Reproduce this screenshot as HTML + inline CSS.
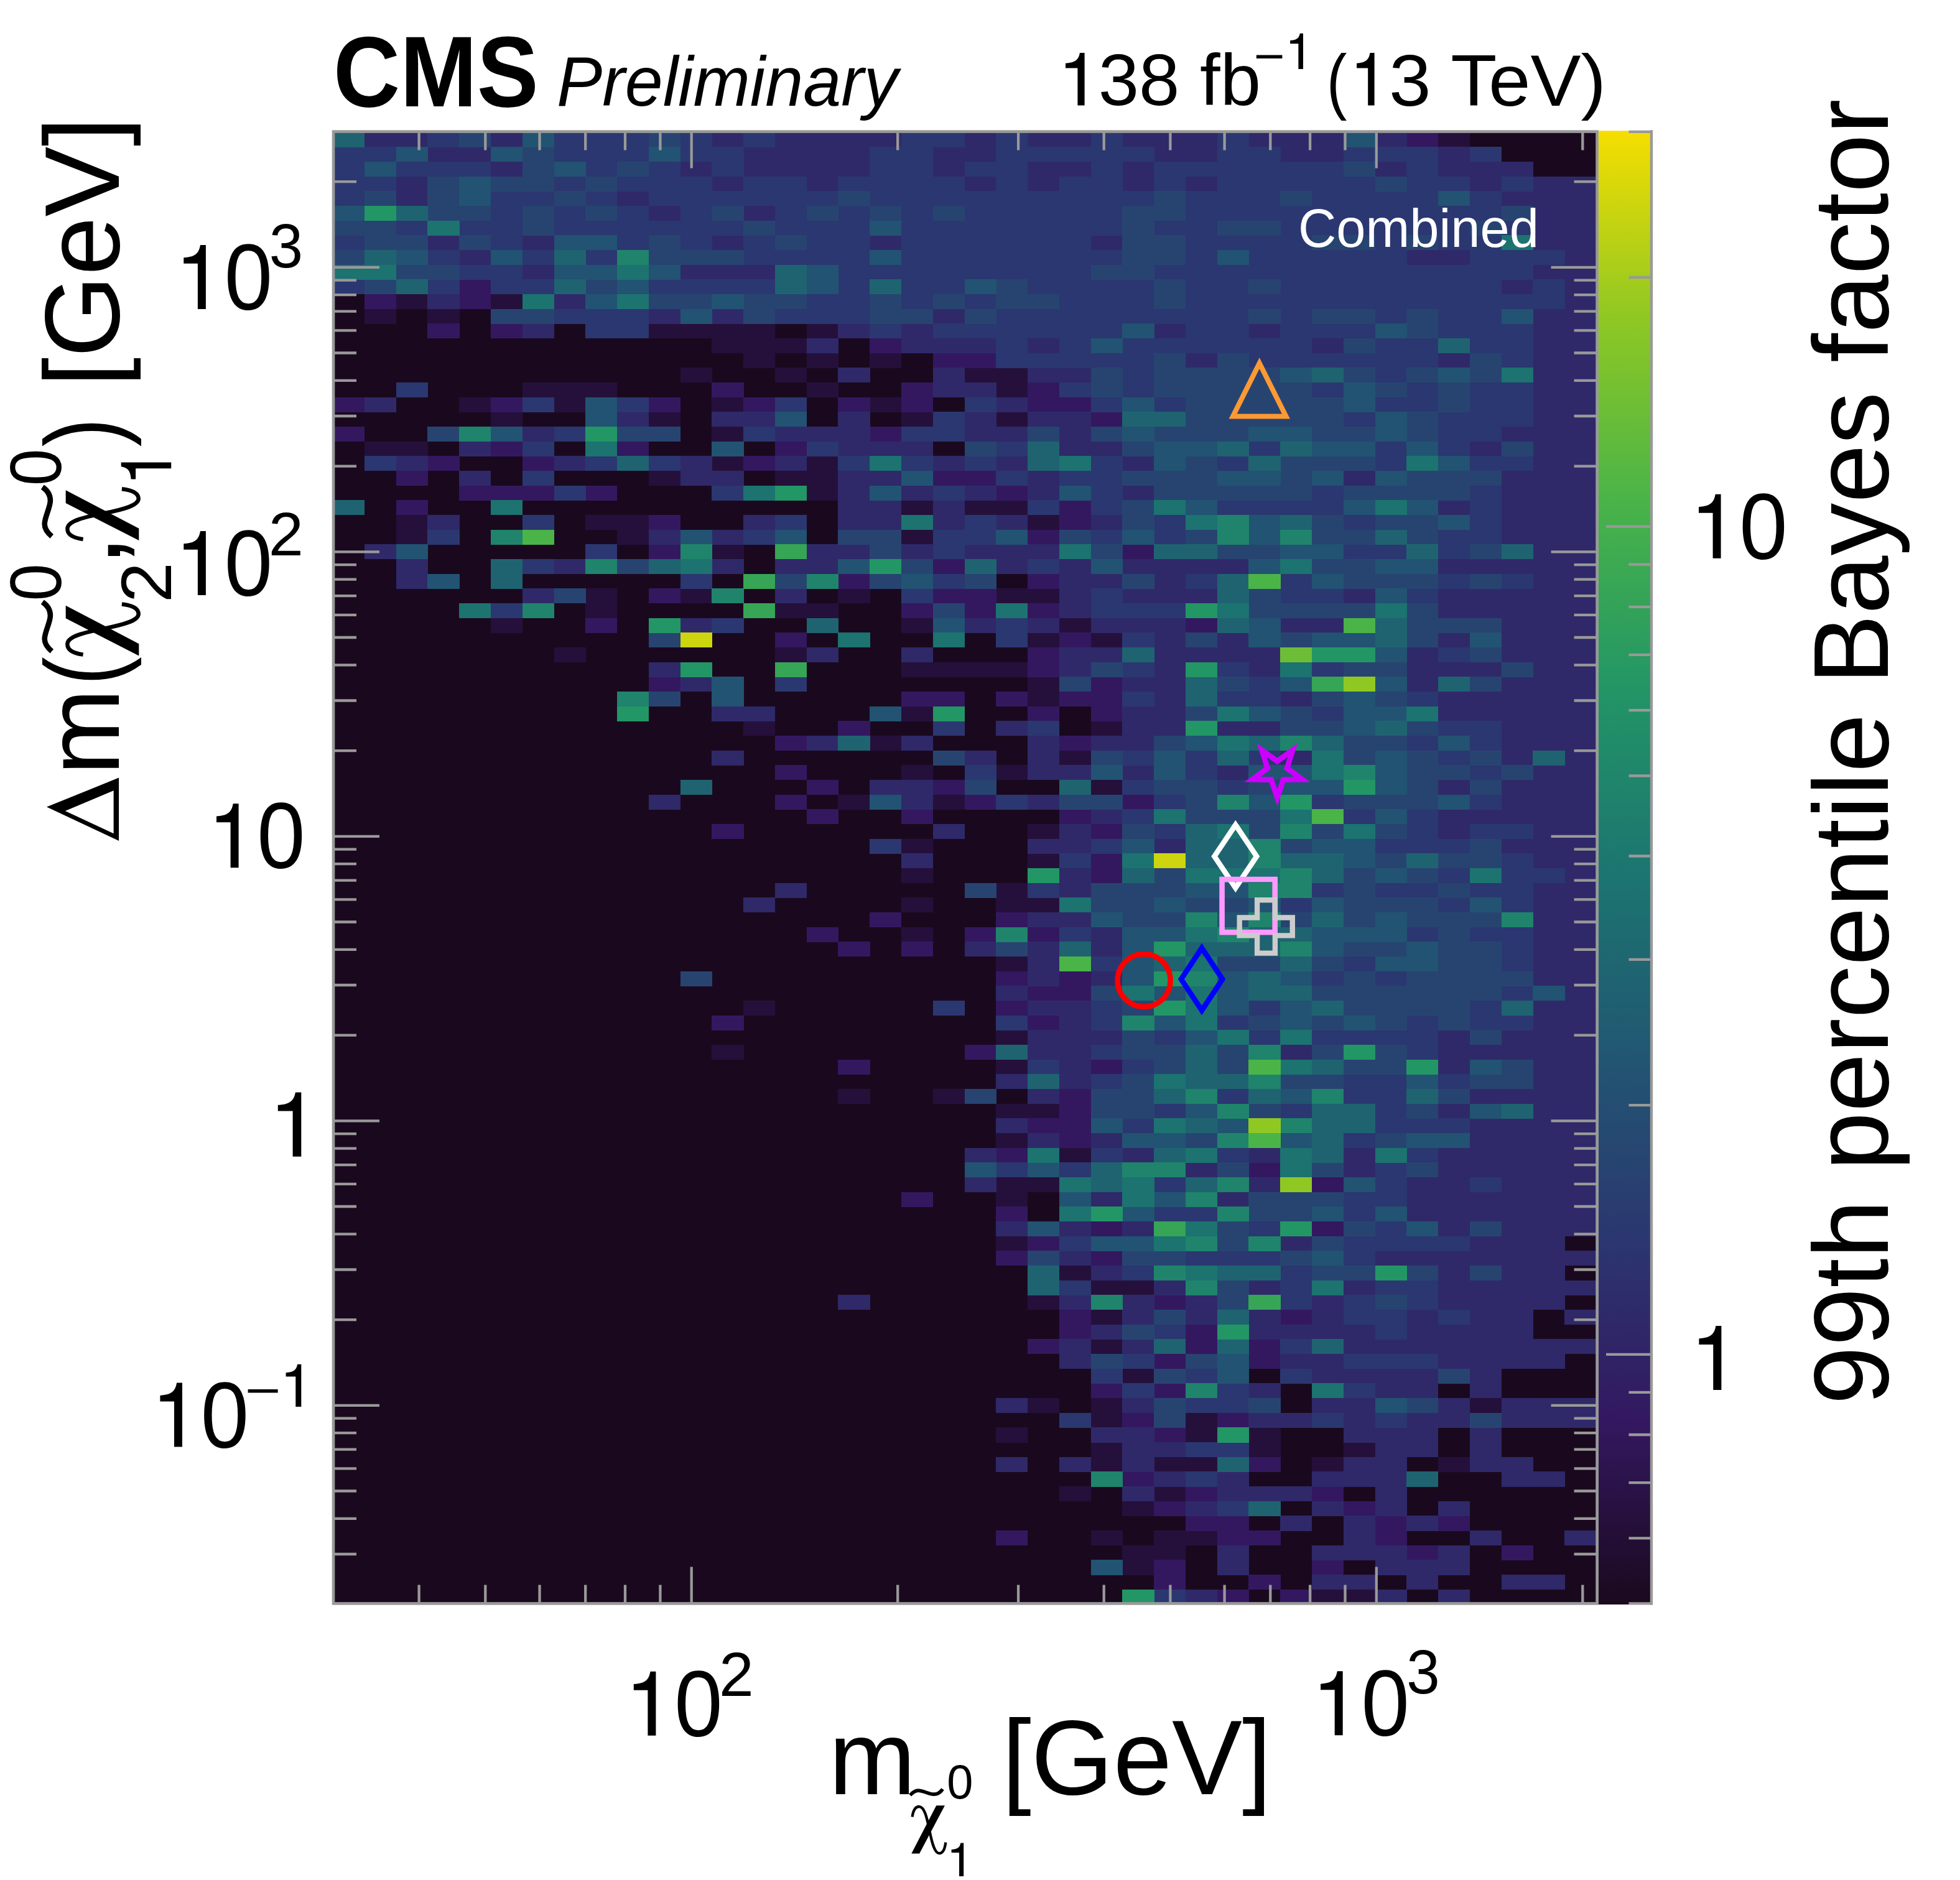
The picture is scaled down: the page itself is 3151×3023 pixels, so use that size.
<!DOCTYPE html><html><head><meta charset="utf-8"><title>plot</title><style>html,body{margin:0;padding:0;background:#fff}svg{display:block}text{font-family:"Liberation Sans",sans-serif}</style></head><body>
<svg width="3151" height="3023" viewBox="0 0 3151 3023">
<rect width="3151" height="3023" fill="#fff"/>
<rect x="536.0" y="211.6" width="2031.6" height="2366.8" fill="#1a091e"/>
<g shape-rendering="crispEdges">
<path fill="#25103c" d="M2312.1 212.6H2363.2V236.7H2312.1zM636.6 472.9H687.8V497H636.6zM788.9 472.9H840.1V497H788.9zM585.9 496.6H637V520.7H585.9zM687.4 496.6H738.6V520.7H687.4zM1042.8 520.3H1246.3V544.4H1042.8zM1296.6 520.3H1347.8V544.4H1296.6zM1144.3 544H1297V568H1144.3zM1195.1 567.6H1246.3V591.7H1195.1zM1296.6 567.6H1347.8V591.7H1296.6zM1398.2 567.6H1449.4V591.7H1398.2zM1093.6 591.3H1144.7V615.4H1093.6zM1245.9 591.3H1297V615.4H1245.9zM1550.5 591.3H1652.4V615.4H1550.5zM839.7 615H992.4V639H839.7zM1296.6 615H1347.8V639H1296.6zM1601.3 615H1652.4V639H1601.3zM738.2 638.6H789.4V662.7H738.2zM890.5 638.6H941.7V662.7H890.5zM1144.3 638.6H1195.5V662.7H1144.3zM1398.2 638.6H1449.4V662.7H1398.2zM788.9 662.3H840.1V686.4H788.9zM1042.8 662.3H1094V686.4H1042.8zM1449 662.3H1500.1V686.4H1449zM1601.3 662.3H1652.4V686.4H1601.3zM1144.3 686H1195.5V710H1144.3zM585.9 709.6H687.8V733.7H585.9zM1144.3 733.3H1195.5V757.4H1144.3zM1296.6 733.3H1347.8V757.4H1296.6zM1042.8 757H1094V781H1042.8zM1245.9 757H1347.8V781H1245.9zM1296.6 780.6H1347.8V804.7H1296.6zM1449 804.3H1500.1V828.4H1449zM1550.5 804.3H1652.4V828.4H1550.5zM636.6 828H687.8V852H636.6zM941.3 828H1043.2V852H941.3zM1652 828H1703.2V852H1652zM636.6 851.6H687.8V875.7H636.6zM992 851.6H1043.2V875.7H992zM1449 851.6H1500.1V875.7H1449zM1144.3 875.3H1195.5V899.4H1144.3zM941.3 946.3H992.4V970.4H941.3zM1093.6 946.3H1144.7V970.4H1093.6zM1347.4 946.3H1398.6V970.4H1347.4zM1601.3 946.3H1703.2V970.4H1601.3zM941.3 970H992.4V994H941.3zM1245.9 970H1347.8V994H1245.9zM788.9 993.6H840.1V1017.7H788.9zM1449 993.6H1500.1V1017.7H1449zM1702.8 993.6H1754V1017.7H1702.8zM1652 1017.3H1703.2V1041.4H1652zM1753.6 1017.3H1804.8V1041.4H1753.6zM890.5 1041H941.7V1065H890.5zM1245.9 1041H1297V1065H1245.9zM1449 1064.6H1652.4V1088.7H1449zM1652 1088.3H1703.2V1112.4H1652zM1652 1112H1703.2V1136.1H1652zM1449 1135.7H1500.1V1159.7H1449zM1195.1 1159.3H1246.3V1183.4H1195.1zM1753.6 1159.3H1804.8V1183.4H1753.6zM1398.2 1183H1449.4V1207.1H1398.2zM1702.8 1206.7H1754V1230.7H1702.8zM1449 1230.3H1500.1V1254.4H1449zM1601.3 1230.3H1652.4V1254.4H1601.3zM1753.6 1254H1804.8V1278.1H1753.6zM1347.4 1277.7H1398.6V1301.7H1347.4zM1499.7 1277.7H1550.9V1301.7H1499.7zM1652 1325H1703.2V1349.1H1652zM1449 1348.7H1500.1V1372.7H1449zM1652 1372.3H1703.2V1396.4H1652zM1449 1396H1500.1V1420.1H1449zM1601.3 1419.7H1652.4V1443.7H1601.3zM1449 1443.3H1500.1V1467.4H1449zM1601.3 1443.3H1703.2V1467.4H1601.3zM1449 1490.7H1500.1V1514.7H1449zM1601.3 1538H1652.4V1562.1H1601.3zM1195.1 1609H1246.3V1633.1H1195.1zM1601.3 1656.3H1652.4V1680.4H1601.3zM1144.3 1680H1195.5V1704.1H1144.3zM1601.3 1703.7H1652.4V1727.8H1601.3zM1347.4 1751H1398.6V1775.1H1347.4zM1499.7 1751H1550.9V1775.1H1499.7zM1601.3 1774.7H1703.2V1798.8H1601.3zM1601.3 1822H1652.4V1846.1H1601.3zM1702.8 1845.7H1754V1869.8H1702.8zM1601.3 1893H1703.2V1917.1H1601.3zM1601.3 1916.7H1652.4V1940.8H1601.3zM1601.3 1987.7H1652.4V2011.8H1601.3zM1702.8 2035H1754V2059.1H1702.8zM1753.6 2058.7H1855.5V2082.8H1753.6zM1652 2082.4H1703.2V2106.4H1652zM1753.6 2106H1804.8V2130.1H1753.6zM1753.6 2153.4H1804.8V2177.4H1753.6zM1804.3 2200.7H1855.5V2224.8H1804.3zM1652 2248H1703.2V2272.1H1652zM1753.6 2248H1804.8V2272.1H1753.6zM2362.8 2248H2414V2272.1H2362.8zM1753.6 2271.7H1804.8V2295.8H1753.6zM1905.9 2271.7H1957.1V2295.8H1905.9zM1601.3 2295.4H1652.4V2319.5H1601.3zM1905.9 2295.4H1957.1V2319.5H1905.9zM2007.4 2295.4H2058.6V2319.5H2007.4zM1753.6 2319.1H1804.8V2343.1H1753.6zM2007.4 2319.1H2058.6V2343.1H2007.4zM2159.7 2319.1H2210.9V2343.1H2159.7zM1753.6 2342.7H1804.8V2366.8H1753.6zM1855.1 2342.7H1957.1V2366.8H1855.1zM2109 2342.7H2160.1V2366.8H2109zM2312.1 2342.7H2363.2V2366.8H2312.1zM1702.8 2390.1H1754V2414.1H1702.8zM1855.1 2390.1H1906.3V2414.1H1855.1zM1804.3 2413.7H1855.5V2437.8H1804.3zM1753.6 2461.1H1804.8V2485.1H1753.6zM1855.1 2461.1H1957.1V2485.1H1855.1zM1804.3 2484.7H1906.3V2508.8H1804.3zM1804.3 2508.4H1855.5V2532.5H1804.3zM2109 2555.7H2210.9V2579.8H2109z"/>
<path fill="#331860" d="M2261.3 212.6H2312.4V236.7H2261.3zM738.2 449.3H789.4V473.3H738.2zM585.9 472.9H637V497H585.9zM738.2 472.9H789.4V497H738.2zM687.4 520.3H738.6V544.4H687.4zM788.9 520.3H840.1V544.4H788.9zM1398.2 544H1449.4V568H1398.2zM1499.7 567.6H1601.7V591.7H1499.7zM1144.3 615H1195.5V639H1144.3zM1449 615H1500.1V639H1449zM1652 615H1703.2V639H1652zM535.1 638.6H586.3V662.7H535.1zM788.9 638.6H840.1V662.7H788.9zM1042.8 638.6H1094V662.7H1042.8zM1195.1 638.6H1246.3V662.7H1195.1zM1347.4 638.6H1398.6V662.7H1347.4zM1449 638.6H1500.1V662.7H1449zM1652 638.6H1754V662.7H1652zM1753.6 662.3H1804.8V686.4H1753.6zM535.1 686H586.3V710H535.1zM1398.2 686H1449.4V710H1398.2zM788.9 709.6H840.1V733.7H788.9zM992 709.6H1043.2V733.7H992zM1245.9 709.6H1297V733.7H1245.9zM687.4 733.3H738.6V757.4H687.4zM839.7 733.3H890.9V757.4H839.7zM1195.1 733.3H1246.3V757.4H1195.1zM636.6 757H687.8V781H636.6zM1499.7 757H1601.7V781H1499.7zM738.2 780.6H890.9V804.7H738.2zM941.3 780.6H992.4V804.7H941.3zM1601.3 780.6H1652.4V804.7H1601.3zM636.6 804.3H687.8V828.4H636.6zM1702.8 804.3H1754V828.4H1702.8zM1042.8 828H1094V852H1042.8zM1702.8 828H1754V852H1702.8zM1652 851.6H1703.2V875.7H1652zM1042.8 875.3H1094V899.4H1042.8zM1804.3 875.3H1855.5V899.4H1804.3zM1499.7 899H1550.9V923H1499.7zM1347.4 922.6H1398.6V946.7H1347.4zM1652 922.6H1703.2V946.7H1652zM1042.8 946.3H1094V970.4H1042.8zM1499.7 946.3H1601.7V970.4H1499.7zM1449 970H1500.1V994H1449zM1550.5 970H1601.7V994H1550.5zM1652 970H1703.2V994H1652zM941.3 993.6H992.4V1017.7H941.3zM1905.9 993.6H1957.1V1017.7H1905.9zM1245.9 1017.3H1297V1041.4H1245.9zM1702.8 1017.3H1754V1041.4H1702.8zM1652 1041H1703.2V1065H1652zM1652 1064.6H1703.2V1088.7H1652zM1042.8 1088.3H1094V1112.4H1042.8zM1753.6 1088.3H1804.8V1112.4H1753.6zM1449 1112H1550.9V1136.1H1449zM1601.3 1112H1652.4V1136.1H1601.3zM1702.8 1112H1804.8V1136.1H1702.8zM1652 1135.7H1703.2V1159.7H1652zM1753.6 1135.7H1804.8V1159.7H1753.6zM1347.4 1159.3H1398.6V1183.4H1347.4zM1245.9 1183H1297V1207.1H1245.9zM1702.8 1183H1754V1207.1H1702.8zM1245.9 1230.3H1297V1254.4H1245.9zM1296.6 1254H1347.8V1278.1H1296.6zM1499.7 1254H1550.9V1278.1H1499.7zM1245.9 1277.7H1297V1301.7H1245.9zM1550.5 1277.7H1601.7V1301.7H1550.5zM1804.3 1277.7H1855.5V1301.7H1804.3zM1296.6 1301.3H1347.8V1325.4H1296.6zM1449 1301.3H1500.1V1325.4H1449zM1702.8 1301.3H1754V1325.4H1702.8zM1144.3 1325H1195.5V1349.1H1144.3zM1753.6 1325H1804.8V1349.1H1753.6zM1753.6 1372.3H1804.8V1396.4H1753.6zM1753.6 1396H1804.8V1420.1H1753.6zM1398.2 1467H1449.4V1491.1H1398.2zM1601.3 1467H1652.4V1491.1H1601.3zM1296.6 1490.7H1347.8V1514.7H1296.6zM1550.5 1490.7H1601.7V1514.7H1550.5zM1652 1490.7H1703.2V1514.7H1652zM1347.4 1514.3H1398.6V1538.4H1347.4zM1449 1514.3H1500.1V1538.4H1449zM1601.3 1561.7H1652.4V1585.7H1601.3zM1702.8 1561.7H1754V1585.7H1702.8zM1652 1585.3H1754V1609.4H1652zM1601.3 1609H1652.4V1633.1H1601.3zM1144.3 1632.7H1195.5V1656.7H1144.3zM1652 1632.7H1703.2V1656.7H1652zM1550.5 1680H1601.7V1704.1H1550.5zM1347.4 1703.7H1398.6V1727.8H1347.4zM1753.6 1703.7H1804.8V1727.8H1753.6zM1702.8 1751H1754V1775.1H1702.8zM1702.8 1774.7H1754V1798.8H1702.8zM1652 1798.4H1754V1822.4H1652zM1702.8 1822H1754V1846.1H1702.8zM1601.3 1845.7H1652.4V1869.8H1601.3zM2007.4 1869.4H2058.6V1893.4H2007.4zM2109 1893H2160.1V1917.1H2109zM1449 1916.7H1500.1V1940.8H1449zM1601.3 1940.4H1652.4V1964.4H1601.3zM1753.6 1964H1804.8V1988.1H1753.6zM2109 1964H2160.1V1988.1H2109zM1652 1987.7H1703.2V2011.8H1652zM1601.3 2011.4H1652.4V2035.4H1601.3zM1753.6 2011.4H1804.8V2035.4H1753.6zM1855.1 2082.4H1906.3V2106.4H1855.1zM1702.8 2106H1754V2130.1H1702.8zM2058.2 2106H2109.4V2130.1H2058.2zM1702.8 2129.7H1754V2153.8H1702.8zM1905.9 2129.7H1957.1V2153.8H1905.9zM1652 2153.4H1703.2V2177.4H1652zM1905.9 2153.4H1957.1V2177.4H1905.9zM2007.4 2153.4H2058.6V2177.4H2007.4zM1855.1 2177H1906.3V2201.1H1855.1zM2007.4 2177H2058.6V2201.1H2007.4zM1753.6 2224.4H1804.8V2248.4H1753.6zM1855.1 2224.4H1906.3V2248.4H1855.1zM1804.3 2271.7H1855.5V2295.8H1804.3zM1956.7 2271.7H2007.8V2295.8H1956.7zM1855.1 2295.4H1906.3V2319.5H1855.1zM2007.4 2342.7H2058.6V2366.8H2007.4zM1804.3 2366.4H1855.5V2390.5H1804.3zM1905.9 2390.1H1957.1V2414.1H1905.9zM2109 2390.1H2160.1V2414.1H2109zM1855.1 2413.7H1906.3V2437.8H1855.1zM2159.7 2413.7H2210.9V2437.8H2159.7zM1905.9 2437.4H2007.8V2461.5H1905.9zM2210.5 2437.4H2261.7V2461.5H2210.5zM2312.1 2437.4H2363.2V2461.5H2312.1zM1601.3 2461.1H1652.4V2485.1H1601.3zM1956.7 2461.1H2058.6V2485.1H1956.7zM2210.5 2461.1H2261.7V2485.1H2210.5zM2261.3 2484.7H2312.4V2508.8H2261.3zM2413.6 2484.7H2464.8V2508.8H2413.6zM1855.1 2508.4H1906.3V2532.5H1855.1zM2109 2508.4H2160.1V2532.5H2109zM1855.1 2532.1H1906.3V2556.1H1855.1zM2007.4 2532.1H2058.6V2556.1H2007.4zM1956.7 2555.7H2007.8V2579.8H1956.7zM2058.2 2555.7H2109.4V2579.8H2058.2z"/>
<path fill="#2f2969" d="M585.9 212.6H687.8V236.7H585.9zM788.9 212.6H840.1V236.7H788.9zM1144.3 212.6H1195.5V236.7H1144.3zM1245.9 212.6H1449.4V236.7H1245.9zM1550.5 212.6H1601.7V236.7H1550.5zM1652 212.6H1754V236.7H1652zM1804.3 212.6H1957.1V236.7H1804.3zM2007.4 212.6H2160.1V236.7H2007.4zM2210.5 212.6H2261.7V236.7H2210.5zM687.4 236.3H789.4V260.3H687.4zM1195.1 236.3H1398.6V260.3H1195.1zM1499.7 236.3H1601.7V260.3H1499.7zM1855.1 236.3H1957.1V260.3H1855.1zM2058.2 236.3H2160.1V260.3H2058.2zM2312.1 236.3H2363.2V260.3H2312.1zM788.9 259.9H840.1V284H788.9zM1093.6 259.9H1144.7V284H1093.6zM1195.1 259.9H1398.6V284H1195.1zM1499.7 259.9H1550.9V284H1499.7zM1652 259.9H1754V284H1652zM1804.3 259.9H1855.5V284H1804.3zM2210.5 259.9H2261.7V284H2210.5zM2312.1 259.9H2464.8V284H2312.1zM636.6 283.6H687.8V307.7H636.6zM1144.3 283.6H1195.5V307.7H1144.3zM1296.6 283.6H1347.8V307.7H1296.6zM1550.5 283.6H1601.7V307.7H1550.5zM1652 283.6H1703.2V307.7H1652zM1804.3 283.6H1855.5V307.7H1804.3zM1905.9 283.6H1957.1V307.7H1905.9zM2362.8 283.6H2414V307.7H2362.8zM2464.4 283.6H2566.3V307.7H2464.4zM636.6 307.3H687.8V331.3H636.6zM992 307.3H1043.2V331.3H992zM2413.6 307.3H2566.3V331.3H2413.6zM1042.8 330.9H1094V355H1042.8zM1195.1 330.9H1246.3V355H1195.1zM2464.4 330.9H2566.3V355H2464.4zM2464.4 354.6H2566.3V378.7H2464.4zM687.4 378.3H738.6V402.3H687.4zM839.7 378.3H890.9V402.3H839.7zM1144.3 378.3H1195.5V402.3H1144.3zM1398.2 378.3H1449.4V402.3H1398.2zM1753.6 378.3H1804.8V402.3H1753.6zM2464.4 378.3H2566.3V402.3H2464.4zM738.2 401.9H789.4V426H738.2zM2261.3 401.9H2363.2V426H2261.3zM2515.1 401.9H2566.3V426H2515.1zM839.7 425.6H890.9V449.7H839.7zM1093.6 425.6H1246.3V449.7H1093.6zM2464.4 425.6H2566.3V449.7H2464.4zM2413.6 449.3H2464.8V473.3H2413.6zM2515.1 449.3H2566.3V473.3H2515.1zM687.4 472.9H738.6V497H687.4zM890.5 472.9H941.7V497H890.5zM2515.1 472.9H2566.3V497H2515.1zM1042.8 496.6H1094V520.7H1042.8zM1144.3 496.6H1195.5V520.7H1144.3zM1499.7 496.6H1550.9V520.7H1499.7zM2464.4 496.6H2566.3V520.7H2464.4zM839.7 520.3H890.9V544.4H839.7zM1347.4 520.3H1398.6V544.4H1347.4zM1449 520.3H1500.1V544.4H1449zM1855.1 520.3H1906.3V544.4H1855.1zM2007.4 520.3H2058.6V544.4H2007.4zM2464.4 520.3H2566.3V544.4H2464.4zM1296.6 544H1347.8V568H1296.6zM1449 544H1601.7V568H1449zM1652 544H1703.2V568H1652zM2109 544H2160.1V568H2109zM2464.4 544H2566.3V568H2464.4zM1905.9 567.6H1957.1V591.7H1905.9zM2312.1 567.6H2363.2V591.7H2312.1zM2464.4 567.6H2566.3V591.7H2464.4zM1347.4 591.3H1398.6V615.4H1347.4zM1499.7 591.3H1550.9V615.4H1499.7zM1652 591.3H1754V615.4H1652zM2464.4 591.3H2566.3V615.4H2464.4zM1499.7 615H1601.7V639H1499.7zM2464.4 615H2566.3V639H2464.4zM585.9 638.6H637V662.7H585.9zM1601.3 638.6H1652.4V662.7H1601.3zM2464.4 638.6H2566.3V662.7H2464.4zM992 662.3H1043.2V686.4H992zM1144.3 662.3H1246.3V686.4H1144.3zM1347.4 662.3H1398.6V686.4H1347.4zM1550.5 662.3H1601.7V686.4H1550.5zM1652 662.3H1754V686.4H1652zM2464.4 662.3H2566.3V686.4H2464.4zM839.7 686H890.9V710H839.7zM1245.9 686H1398.6V710H1245.9zM1550.5 686H1652.4V710H1550.5zM1702.8 686H1754V710H1702.8zM2413.6 686H2566.3V710H2413.6zM738.2 709.6H789.4V733.7H738.2zM1347.4 709.6H1500.1V733.7H1347.4zM1702.8 709.6H1804.8V733.7H1702.8zM2362.8 709.6H2414V733.7H2362.8zM2464.4 709.6H2566.3V733.7H2464.4zM636.6 733.3H687.8V757.4H636.6zM890.5 733.3H941.7V757.4H890.5zM1093.6 733.3H1144.7V757.4H1093.6zM1245.9 733.3H1297V757.4H1245.9zM1499.7 733.3H1550.9V757.4H1499.7zM1601.3 733.3H1652.4V757.4H1601.3zM1804.3 733.3H1855.5V757.4H1804.3zM2464.4 733.3H2566.3V757.4H2464.4zM738.2 757H789.4V781H738.2zM1093.6 757H1195.5V781H1093.6zM1347.4 757H1449.4V781H1347.4zM1652 757H1703.2V781H1652zM2159.7 757H2210.9V781H2159.7zM2413.6 757H2566.3V781H2413.6zM1347.4 780.6H1398.6V804.7H1347.4zM1449 780.6H1500.1V804.7H1449zM1550.5 780.6H1601.7V804.7H1550.5zM1652 780.6H1703.2V804.7H1652zM1804.3 780.6H1855.5V804.7H1804.3zM2413.6 780.6H2566.3V804.7H2413.6zM1347.4 804.3H1449.4V828.4H1347.4zM1499.7 804.3H1550.9V828.4H1499.7zM2312.1 804.3H2363.2V828.4H2312.1zM2413.6 804.3H2566.3V828.4H2413.6zM687.4 828H738.6V852H687.4zM1195.1 828H1246.3V852H1195.1zM1347.4 828H1449.4V852H1347.4zM1499.7 828H1550.9V852H1499.7zM1601.3 828H1652.4V852H1601.3zM1753.6 828H1804.8V852H1753.6zM2413.6 828H2566.3V852H2413.6zM1042.8 851.6H1094V875.7H1042.8zM1144.3 851.6H1195.5V875.7H1144.3zM2413.6 851.6H2566.3V875.7H2413.6zM585.9 875.3H637V899.4H585.9zM1296.6 875.3H1398.6V899.4H1296.6zM1449 875.3H1500.1V899.4H1449zM1550.5 875.3H1703.2V899.4H1550.5zM2464.4 875.3H2566.3V899.4H2464.4zM636.6 899H687.8V923H636.6zM890.5 899H941.7V923H890.5zM1144.3 899H1195.5V923H1144.3zM1245.9 899H1347.8V923H1245.9zM1601.3 899H1652.4V923H1601.3zM1702.8 899H1754V923H1702.8zM1804.3 899H2007.8V923H1804.3zM2312.1 899H2566.3V923H2312.1zM636.6 922.6H687.8V946.7H636.6zM1702.8 922.6H1804.8V946.7H1702.8zM1855.1 922.6H1906.3V946.7H1855.1zM2464.4 922.6H2566.3V946.7H2464.4zM839.7 946.3H890.9V970.4H839.7zM1245.9 946.3H1297V970.4H1245.9zM1702.8 946.3H1754V970.4H1702.8zM1804.3 946.3H1957.1V970.4H1804.3zM2159.7 946.3H2210.9V970.4H2159.7zM2312.1 946.3H2566.3V970.4H2312.1zM1702.8 970H1754V994H1702.8zM2312.1 970H2566.3V994H2312.1zM1093.6 993.6H1144.7V1017.7H1093.6zM1550.5 993.6H1601.7V1017.7H1550.5zM1652 993.6H1703.2V1017.7H1652zM1753.6 993.6H1906.3V1017.7H1753.6zM2058.2 993.6H2160.1V1017.7H2058.2zM2413.6 993.6H2566.3V1017.7H2413.6zM1855.1 1017.3H1906.3V1041.4H1855.1zM1956.7 1017.3H2007.8V1041.4H1956.7zM2312.1 1017.3H2363.2V1041.4H2312.1zM2413.6 1017.3H2566.3V1041.4H2413.6zM1296.6 1041H1347.8V1065H1296.6zM1449 1041H1500.1V1065H1449zM1702.8 1041H1804.8V1065H1702.8zM1855.1 1041H2058.6V1065H1855.1zM2261.3 1041H2312.4V1065H2261.3zM2413.6 1041H2566.3V1065H2413.6zM1042.8 1064.6H1094V1088.7H1042.8zM1702.8 1064.6H1754V1088.7H1702.8zM1855.1 1064.6H1906.3V1088.7H1855.1zM2007.4 1064.6H2058.6V1088.7H2007.4zM2261.3 1064.6H2414V1088.7H2261.3zM2464.4 1064.6H2566.3V1088.7H2464.4zM1093.6 1088.3H1144.7V1112.4H1093.6zM1804.3 1088.3H1906.3V1112.4H1804.3zM2261.3 1088.3H2312.4V1112.4H2261.3zM2413.6 1088.3H2566.3V1112.4H2413.6zM1855.1 1112H1906.3V1136.1H1855.1zM2058.2 1112H2109.4V1136.1H2058.2zM2312.1 1112H2566.3V1136.1H2312.1zM1144.3 1135.7H1246.3V1159.7H1144.3zM1804.3 1135.7H1906.3V1159.7H1804.3zM2312.1 1135.7H2566.3V1159.7H2312.1zM1601.3 1159.3H1652.4V1183.4H1601.3zM1804.3 1159.3H1906.3V1183.4H1804.3zM1956.7 1159.3H2058.6V1183.4H1956.7zM2413.6 1159.3H2566.3V1183.4H2413.6zM1296.6 1183H1347.8V1207.1H1296.6zM1449 1183H1500.1V1207.1H1449zM1652 1183H1703.2V1207.1H1652zM1753.6 1183H1855.5V1207.1H1753.6zM2413.6 1183H2566.3V1207.1H2413.6zM1144.3 1206.7H1195.5V1230.7H1144.3zM1550.5 1206.7H1601.7V1230.7H1550.5zM1652 1206.7H1703.2V1230.7H1652zM2058.2 1206.7H2109.4V1230.7H2058.2zM2413.6 1206.7H2464.8V1230.7H2413.6zM2515.1 1206.7H2566.3V1230.7H2515.1zM1652 1230.3H1754V1254.4H1652zM1804.3 1230.3H1855.5V1254.4H1804.3zM1956.7 1230.3H2007.8V1254.4H1956.7zM2464.4 1230.3H2566.3V1254.4H2464.4zM1398.2 1254H1500.1V1278.1H1398.2zM2312.1 1254H2363.2V1278.1H2312.1zM2413.6 1254H2566.3V1278.1H2413.6zM1042.8 1277.7H1094V1301.7H1042.8zM1449 1277.7H1500.1V1301.7H1449zM1652 1277.7H1703.2V1301.7H1652zM2413.6 1277.7H2566.3V1301.7H2413.6zM1753.6 1301.3H1804.8V1325.4H1753.6zM2312.1 1301.3H2566.3V1325.4H2312.1zM1499.7 1325H1550.9V1349.1H1499.7zM1702.8 1325H1754V1349.1H1702.8zM2312.1 1325H2363.2V1349.1H2312.1zM2464.4 1325H2566.3V1349.1H2464.4zM1652 1348.7H1754V1372.7H1652zM1855.1 1348.7H1906.3V1372.7H1855.1zM2413.6 1348.7H2566.3V1372.7H2413.6zM1449 1372.3H1500.1V1396.4H1449zM2464.4 1372.3H2566.3V1396.4H2464.4zM1702.8 1396H1754V1420.1H1702.8zM2515.1 1396H2566.3V1420.1H2515.1zM1245.9 1419.7H1297V1443.7H1245.9zM1702.8 1419.7H1754V1443.7H1702.8zM2464.4 1419.7H2566.3V1443.7H2464.4zM1195.1 1443.3H1246.3V1467.4H1195.1zM2464.4 1443.3H2566.3V1467.4H2464.4zM1652 1467H1754V1491.1H1652zM2464.4 1467H2566.3V1491.1H2464.4zM1753.6 1490.7H1804.8V1514.7H1753.6zM2464.4 1490.7H2566.3V1514.7H2464.4zM1550.5 1514.3H1601.7V1538.4H1550.5zM1652 1514.3H1703.2V1538.4H1652zM1753.6 1514.3H1804.8V1538.4H1753.6zM2464.4 1514.3H2566.3V1538.4H2464.4zM1652 1538H1703.2V1562.1H1652zM2464.4 1538H2566.3V1562.1H2464.4zM1652 1561.7H1703.2V1585.7H1652zM1753.6 1561.7H1804.8V1585.7H1753.6zM2464.4 1561.7H2566.3V1585.7H2464.4zM1601.3 1585.3H1652.4V1609.4H1601.3zM2515.1 1585.3H2566.3V1609.4H2515.1zM1652 1609H1754V1633.1H1652zM2464.4 1609H2566.3V1633.1H2464.4zM1702.8 1632.7H1754V1656.7H1702.8zM2464.4 1632.7H2566.3V1656.7H2464.4zM1652 1656.3H1804.8V1680.4H1652zM2312.1 1656.3H2363.2V1680.4H2312.1zM2413.6 1656.3H2566.3V1680.4H2413.6zM1652 1680H1754V1704.1H1652zM2058.2 1680H2109.4V1704.1H2058.2zM2312.1 1680H2566.3V1704.1H2312.1zM1702.8 1703.7H1754V1727.8H1702.8zM2312.1 1703.7H2363.2V1727.8H2312.1zM2464.4 1703.7H2566.3V1727.8H2464.4zM1601.3 1727.4H1652.4V1751.4H1601.3zM1702.8 1727.4H1754V1751.4H1702.8zM2464.4 1727.4H2566.3V1751.4H2464.4zM1652 1751H1703.2V1775.1H1652zM2362.8 1751H2566.3V1775.1H2362.8zM2312.1 1774.7H2363.2V1798.8H2312.1zM2464.4 1774.7H2566.3V1798.8H2464.4zM1601.3 1798.4H1652.4V1822.4H1601.3zM2362.8 1798.4H2566.3V1822.4H2362.8zM1652 1822H1703.2V1846.1H1652zM1753.6 1822H1804.8V1846.1H1753.6zM2362.8 1822H2566.3V1846.1H2362.8zM1550.5 1845.7H1601.7V1869.8H1550.5zM1804.3 1845.7H1855.5V1869.8H1804.3zM2007.4 1845.7H2058.6V1869.8H2007.4zM2159.7 1845.7H2210.9V1869.8H2159.7zM2312.1 1845.7H2566.3V1869.8H2312.1zM1905.9 1869.4H1957.1V1893.4H1905.9zM2159.7 1869.4H2210.9V1893.4H2159.7zM2312.1 1869.4H2566.3V1893.4H2312.1zM1550.5 1893H1601.7V1917.1H1550.5zM2007.4 1893H2058.6V1917.1H2007.4zM2261.3 1893H2363.2V1917.1H2261.3zM2413.6 1893H2566.3V1917.1H2413.6zM1753.6 1916.7H1804.8V1940.8H1753.6zM1956.7 1916.7H2007.8V1940.8H1956.7zM2261.3 1916.7H2566.3V1940.8H2261.3zM2261.3 1940.4H2566.3V1964.4H2261.3zM1601.3 1964H1652.4V1988.1H1601.3zM1702.8 1964H1754V1988.1H1702.8zM1804.3 1964H1855.5V1988.1H1804.3zM2312.1 1964H2363.2V1988.1H2312.1zM2413.6 1964H2566.3V1988.1H2413.6zM2058.2 1987.7H2109.4V2011.8H2058.2zM2362.8 1987.7H2515.5V2011.8H2362.8zM1702.8 2011.4H1754V2035.4H1702.8zM2210.5 2011.4H2566.3V2035.4H2210.5zM1753.6 2035H1804.8V2059.1H1753.6zM2312.1 2035H2363.2V2059.1H2312.1zM2413.6 2035H2515.5V2059.1H2413.6zM1855.1 2058.7H1906.3V2082.8H1855.1zM2007.4 2058.7H2058.6V2082.8H2007.4zM2159.7 2058.7H2210.9V2082.8H2159.7zM2312.1 2058.7H2566.3V2082.8H2312.1zM1347.4 2082.4H1398.6V2106.4H1347.4zM1702.8 2082.4H1754V2106.4H1702.8zM1804.3 2082.4H1855.5V2106.4H1804.3zM1905.9 2082.4H1957.1V2106.4H1905.9zM2109 2082.4H2160.1V2106.4H2109zM2312.1 2082.4H2515.5V2106.4H2312.1zM1804.3 2106H1855.5V2130.1H1804.3zM1905.9 2106H1957.1V2130.1H1905.9zM2007.4 2106H2058.6V2130.1H2007.4zM2109 2106H2160.1V2130.1H2109zM2261.3 2106H2312.4V2130.1H2261.3zM2362.8 2106H2464.8V2130.1H2362.8zM2515.1 2106H2566.3V2130.1H2515.1zM1753.6 2129.7H1804.8V2153.8H1753.6zM2007.4 2129.7H2210.9V2153.8H2007.4zM2261.3 2129.7H2464.8V2153.8H2261.3zM1702.8 2153.4H1754V2177.4H1702.8zM1804.3 2153.4H1855.5V2177.4H1804.3zM2159.7 2153.4H2566.3V2177.4H2159.7zM1702.8 2177H1754V2201.1H1702.8zM2058.2 2177H2160.1V2201.1H2058.2zM2312.1 2177H2515.5V2201.1H2312.1zM2109 2200.7H2312.4V2224.8H2109zM2362.8 2200.7H2414V2224.8H2362.8zM2007.4 2224.4H2058.6V2248.4H2007.4zM2210.5 2224.4H2312.4V2248.4H2210.5zM2362.8 2224.4H2414V2248.4H2362.8zM1601.3 2248H1652.4V2272.1H1601.3zM1804.3 2248H1855.5V2272.1H1804.3zM2109 2248H2210.9V2272.1H2109zM2312.1 2248H2363.2V2272.1H2312.1zM2413.6 2248H2566.3V2272.1H2413.6zM2007.4 2271.7H2109.4V2295.8H2007.4zM2159.7 2271.7H2210.9V2295.8H2159.7zM2261.3 2271.7H2363.2V2295.8H2261.3zM2413.6 2271.7H2566.3V2295.8H2413.6zM1753.6 2295.4H1855.5V2319.5H1753.6zM2159.7 2295.4H2312.4V2319.5H2159.7zM2362.8 2295.4H2414V2319.5H2362.8zM1804.3 2319.1H1906.3V2343.1H1804.3zM2210.5 2319.1H2312.4V2343.1H2210.5zM2362.8 2319.1H2414V2343.1H2362.8zM1601.3 2342.7H1652.4V2366.8H1601.3zM1702.8 2342.7H1754V2366.8H1702.8zM1804.3 2342.7H1855.5V2366.8H1804.3zM2159.7 2342.7H2261.7V2366.8H2159.7zM2362.8 2342.7H2464.8V2366.8H2362.8zM1855.1 2366.4H1906.3V2390.5H1855.1zM1956.7 2366.4H2007.8V2390.5H1956.7zM2109 2366.4H2261.7V2390.5H2109zM2413.6 2366.4H2515.5V2390.5H2413.6zM1804.3 2390.1H1855.5V2414.1H1804.3zM1956.7 2390.1H2109.4V2414.1H1956.7zM2210.5 2390.1H2261.7V2414.1H2210.5zM1905.9 2413.7H1957.1V2437.8H1905.9zM2109 2413.7H2160.1V2437.8H2109zM2210.5 2413.7H2261.7V2437.8H2210.5zM2312.1 2413.7H2363.2V2437.8H2312.1zM2058.2 2437.4H2109.4V2461.5H2058.2zM2159.7 2437.4H2210.9V2461.5H2159.7zM2261.3 2437.4H2312.4V2461.5H2261.3zM2159.7 2461.1H2210.9V2485.1H2159.7zM2362.8 2461.1H2414V2485.1H2362.8zM2515.1 2461.1H2566.3V2485.1H2515.1zM1956.7 2484.7H2007.8V2508.8H1956.7zM2109 2484.7H2261.7V2508.8H2109zM2312.1 2484.7H2363.2V2508.8H2312.1zM1956.7 2508.4H2007.8V2532.5H1956.7zM2210.5 2508.4H2363.2V2532.5H2210.5zM2109 2532.1H2210.9V2556.1H2109zM2261.3 2532.1H2312.4V2556.1H2261.3zM2413.6 2532.1H2515.5V2556.1H2413.6zM1905.9 2555.7H1957.1V2579.8H1905.9zM2210.5 2555.7H2261.7V2579.8H2210.5zM2312.1 2555.7H2363.2V2579.8H2312.1z"/>
<path fill="#2b3770" d="M687.4 212.6H738.6V236.7H687.4zM890.5 212.6H1043.2V236.7H890.5zM1093.6 212.6H1144.7V236.7H1093.6zM1195.1 212.6H1246.3V236.7H1195.1zM1449 212.6H1550.9V236.7H1449zM1601.3 212.6H1652.4V236.7H1601.3zM1753.6 212.6H1804.8V236.7H1753.6zM1956.7 212.6H2007.8V236.7H1956.7zM535.1 236.3H637V260.3H535.1zM890.5 236.3H1043.2V260.3H890.5zM1093.6 236.3H1195.5V260.3H1093.6zM1398.2 236.3H1500.1V260.3H1398.2zM1601.3 236.3H1855.5V260.3H1601.3zM1956.7 236.3H2058.6V260.3H1956.7zM2159.7 236.3H2312.4V260.3H2159.7zM2362.8 236.3H2414V260.3H2362.8zM535.1 259.9H586.3V284H535.1zM636.6 259.9H789.4V284H636.6zM941.3 259.9H992.4V284H941.3zM1042.8 259.9H1094V284H1042.8zM1144.3 259.9H1195.5V284H1144.3zM1398.2 259.9H1500.1V284H1398.2zM1550.5 259.9H1652.4V284H1550.5zM1753.6 259.9H1804.8V284H1753.6zM1855.1 259.9H2160.1V284H1855.1zM2261.3 259.9H2312.4V284H2261.3zM535.1 283.6H637V307.7H535.1zM890.5 283.6H941.7V307.7H890.5zM992 283.6H1144.7V307.7H992zM1195.1 283.6H1297V307.7H1195.1zM1347.4 283.6H1550.9V307.7H1347.4zM1601.3 283.6H1652.4V307.7H1601.3zM1702.8 283.6H1804.8V307.7H1702.8zM1855.1 283.6H1906.3V307.7H1855.1zM1956.7 283.6H2210.9V307.7H1956.7zM2261.3 283.6H2363.2V307.7H2261.3zM2413.6 283.6H2464.8V307.7H2413.6zM535.1 307.3H586.3V331.3H535.1zM788.9 307.3H890.9V331.3H788.9zM941.3 307.3H992.4V331.3H941.3zM1042.8 307.3H1347.8V331.3H1042.8zM1398.2 307.3H1855.5V331.3H1398.2zM1905.9 307.3H2058.6V331.3H1905.9zM2109 307.3H2312.4V331.3H2109zM2362.8 307.3H2414V331.3H2362.8zM788.9 330.9H840.1V355H788.9zM890.5 330.9H941.7V355H890.5zM992 330.9H1043.2V355H992zM1093.6 330.9H1144.7V355H1093.6zM1245.9 330.9H1297V355H1245.9zM1347.4 330.9H1398.6V355H1347.4zM1449 330.9H1500.1V355H1449zM1550.5 330.9H1804.8V355H1550.5zM1905.9 330.9H2414V355H1905.9zM636.6 354.6H687.8V378.7H636.6zM738.2 354.6H840.1V378.7H738.2zM890.5 354.6H1195.5V378.7H890.5zM1245.9 354.6H1398.6V378.7H1245.9zM1449 354.6H1804.8V378.7H1449zM1855.1 354.6H1957.1V378.7H1855.1zM2058.2 354.6H2363.2V378.7H2058.2zM2413.6 354.6H2464.8V378.7H2413.6zM535.1 378.3H586.3V402.3H535.1zM788.9 378.3H840.1V402.3H788.9zM992 378.3H1043.2V402.3H992zM1093.6 378.3H1144.7V402.3H1093.6zM1195.1 378.3H1246.3V402.3H1195.1zM1296.6 378.3H1398.6V402.3H1296.6zM1449 378.3H1754V402.3H1449zM1905.9 378.3H2109.4V402.3H1905.9zM2210.5 378.3H2261.7V402.3H2210.5zM2312.1 378.3H2414V402.3H2312.1zM687.4 401.9H738.6V426H687.4zM839.7 401.9H890.9V426H839.7zM941.3 401.9H992.4V426H941.3zM1195.1 401.9H1398.6V426H1195.1zM1449 401.9H1804.8V426H1449zM1905.9 401.9H1957.1V426H1905.9zM2007.4 401.9H2261.7V426H2007.4zM2362.8 401.9H2515.5V426H2362.8zM738.2 425.6H840.1V449.7H738.2zM1347.4 425.6H1754V449.7H1347.4zM1855.1 425.6H2464.8V449.7H1855.1zM535.1 449.3H586.3V473.3H535.1zM687.4 449.3H738.6V473.3H687.4zM788.9 449.3H890.9V473.3H788.9zM1042.8 449.3H1246.3V473.3H1042.8zM1347.4 449.3H1398.6V473.3H1347.4zM1449 449.3H1550.9V473.3H1449zM1652 449.3H1855.5V473.3H1652zM1905.9 449.3H2007.8V473.3H1905.9zM2058.2 449.3H2414V473.3H2058.2zM2464.4 449.3H2515.5V473.3H2464.4zM1296.6 472.9H1398.6V497H1296.6zM1449 472.9H1500.1V497H1449zM1550.5 472.9H1601.7V497H1550.5zM1702.8 472.9H1855.5V497H1702.8zM1905.9 472.9H2515.5V497H1905.9zM890.5 496.6H1043.2V520.7H890.5zM1245.9 496.6H1398.6V520.7H1245.9zM1601.3 496.6H2007.8V520.7H1601.3zM2058.2 496.6H2109.4V520.7H2058.2zM2210.5 496.6H2261.7V520.7H2210.5zM2312.1 496.6H2414V520.7H2312.1zM941.3 520.3H1043.2V544.4H941.3zM1398.2 520.3H1449.4V544.4H1398.2zM1499.7 520.3H1804.8V544.4H1499.7zM1905.9 520.3H2007.8V544.4H1905.9zM2058.2 520.3H2210.9V544.4H2058.2zM2312.1 520.3H2464.8V544.4H2312.1zM1601.3 544H1652.4V568H1601.3zM1702.8 544H1754V568H1702.8zM1804.3 544H2109.4V568H1804.3zM2210.5 544H2312.4V568H2210.5zM2362.8 544H2464.8V568H2362.8zM1601.3 567.6H1855.5V591.7H1601.3zM2007.4 567.6H2312.4V591.7H2007.4zM2413.6 567.6H2464.8V591.7H2413.6zM1804.3 591.3H1855.5V615.4H1804.3zM2210.5 591.3H2261.7V615.4H2210.5zM636.6 615H687.8V639H636.6zM1702.8 615H1754V639H1702.8zM1804.3 615H1855.5V639H1804.3zM2109 615H2160.1V639H2109zM2261.3 615H2312.4V639H2261.3zM2362.8 615H2464.8V639H2362.8zM839.7 638.6H890.9V662.7H839.7zM992 638.6H1043.2V662.7H992zM1245.9 638.6H1297V662.7H1245.9zM1550.5 638.6H1601.7V662.7H1550.5zM1753.6 638.6H1804.8V662.7H1753.6zM1855.1 638.6H1906.3V662.7H1855.1zM2210.5 638.6H2312.4V662.7H2210.5zM2362.8 638.6H2464.8V662.7H2362.8zM1499.7 662.3H1550.9V686.4H1499.7zM2159.7 662.3H2210.9V686.4H2159.7zM2312.1 662.3H2464.8V686.4H2312.1zM890.5 686H941.7V710H890.5zM1195.1 686H1246.3V710H1195.1zM1449 686H1550.9V710H1449zM2312.1 686H2414V710H2312.1zM839.7 709.6H890.9V733.7H839.7zM1296.6 709.6H1347.8V733.7H1296.6zM1601.3 709.6H1652.4V733.7H1601.3zM2007.4 709.6H2058.6V733.7H2007.4zM2210.5 709.6H2261.7V733.7H2210.5zM2312.1 709.6H2363.2V733.7H2312.1zM585.9 733.3H637V757.4H585.9zM941.3 733.3H992.4V757.4H941.3zM1042.8 733.3H1094V757.4H1042.8zM1347.4 733.3H1398.6V757.4H1347.4zM1449 733.3H1500.1V757.4H1449zM1550.5 733.3H1601.7V757.4H1550.5zM1753.6 733.3H1804.8V757.4H1753.6zM1956.7 733.3H2007.8V757.4H1956.7zM2210.5 733.3H2261.7V757.4H2210.5zM2362.8 733.3H2464.8V757.4H2362.8zM839.7 757H890.9V781H839.7zM1601.3 757H1652.4V781H1601.3zM1702.8 757H1804.8V781H1702.8zM890.5 780.6H941.7V804.7H890.5zM1144.3 780.6H1195.5V804.7H1144.3zM1499.7 780.6H1550.9V804.7H1499.7zM1753.6 780.6H1804.8V804.7H1753.6zM2109 780.6H2160.1V804.7H2109zM2362.8 780.6H2414V804.7H2362.8zM1652 804.3H1703.2V828.4H1652zM1753.6 804.3H1804.8V828.4H1753.6zM1956.7 804.3H2160.1V828.4H1956.7zM2362.8 804.3H2414V828.4H2362.8zM839.7 828H890.9V852H839.7zM1245.9 828H1297V852H1245.9zM1550.5 828H1601.7V852H1550.5zM1855.1 828H1906.3V852H1855.1zM2159.7 828H2210.9V852H2159.7zM2362.8 828H2414V852H2362.8zM687.4 851.6H738.6V875.7H687.4zM1195.1 851.6H1246.3V875.7H1195.1zM1499.7 851.6H1601.7V875.7H1499.7zM1753.6 851.6H1804.8V875.7H1753.6zM1855.1 851.6H1906.3V875.7H1855.1zM2312.1 851.6H2414V875.7H2312.1zM941.3 875.3H992.4V899.4H941.3zM1499.7 875.3H1550.9V899.4H1499.7zM2159.7 875.3H2261.7V899.4H2159.7zM2312.1 875.3H2363.2V899.4H2312.1zM839.7 899H890.9V923H839.7zM1652 899H1703.2V923H1652zM1093.6 922.6H1144.7V946.7H1093.6zM1499.7 922.6H1550.9V946.7H1499.7zM1905.9 922.6H1957.1V946.7H1905.9zM2058.2 922.6H2109.4V946.7H2058.2zM2312.1 922.6H2363.2V946.7H2312.1zM2413.6 922.6H2464.8V946.7H2413.6zM1449 946.3H1500.1V970.4H1449zM1753.6 946.3H1804.8V970.4H1753.6zM2058.2 946.3H2160.1V970.4H2058.2zM2261.3 946.3H2312.4V970.4H2261.3zM788.9 970H840.1V994H788.9zM1753.6 970H1906.3V994H1753.6zM1144.3 993.6H1195.5V1017.7H1144.3zM1601.3 993.6H1652.4V1017.7H1601.3zM1601.3 1017.3H1652.4V1041.4H1601.3zM1804.3 1017.3H1855.5V1041.4H1804.3zM2312.1 1041H2363.2V1065H2312.1zM1804.3 1064.6H1855.5V1088.7H1804.3zM1956.7 1064.6H2007.8V1088.7H1956.7zM2109 1064.6H2160.1V1088.7H2109zM1245.9 1088.3H1297V1112.4H1245.9zM2007.4 1088.3H2058.6V1112.4H2007.4zM1804.3 1112H1855.5V1136.1H1804.3zM1956.7 1112H2058.6V1136.1H1956.7zM2261.3 1112H2312.4V1136.1H2261.3zM2109 1135.7H2160.1V1159.7H2109zM1499.7 1159.3H1550.9V1183.4H1499.7zM1652 1159.3H1703.2V1183.4H1652zM2312.1 1159.3H2414V1183.4H2312.1zM2261.3 1183H2312.4V1207.1H2261.3zM2362.8 1183H2414V1207.1H2362.8zM1804.3 1206.7H1855.5V1230.7H1804.3zM1905.9 1206.7H1957.1V1230.7H1905.9zM2007.4 1206.7H2058.6V1230.7H2007.4zM2312.1 1206.7H2363.2V1230.7H2312.1zM1550.5 1230.3H1601.7V1254.4H1550.5zM1905.9 1230.3H1957.1V1254.4H1905.9zM2362.8 1230.3H2414V1254.4H2362.8zM1804.3 1254H1855.5V1278.1H1804.3zM1956.7 1254H2007.8V1278.1H1956.7zM1601.3 1277.7H1652.4V1301.7H1601.3zM1855.1 1277.7H1906.3V1301.7H1855.1zM2109 1277.7H2160.1V1301.7H2109zM2362.8 1277.7H2414V1301.7H2362.8zM1804.3 1301.3H1855.5V1325.4H1804.3zM2159.7 1301.3H2210.9V1325.4H2159.7zM2261.3 1301.3H2312.4V1325.4H2261.3zM1855.1 1325H1906.3V1349.1H1855.1zM2261.3 1325H2312.4V1349.1H2261.3zM2362.8 1325H2464.8V1349.1H2362.8zM1398.2 1348.7H1449.4V1372.7H1398.2zM1753.6 1348.7H1804.8V1372.7H1753.6zM2210.5 1348.7H2363.2V1372.7H2210.5zM1702.8 1372.3H1754V1396.4H1702.8zM2413.6 1372.3H2464.8V1396.4H2413.6zM2312.1 1396H2363.2V1420.1H2312.1zM2413.6 1396H2515.5V1420.1H2413.6zM1652 1419.7H1703.2V1443.7H1652zM2109 1419.7H2160.1V1443.7H2109zM2210.5 1419.7H2312.4V1443.7H2210.5zM2362.8 1419.7H2464.8V1443.7H2362.8zM2058.2 1443.3H2109.4V1467.4H2058.2zM2312.1 1443.3H2363.2V1467.4H2312.1zM2413.6 1443.3H2464.8V1467.4H2413.6zM1702.8 1490.7H1754V1514.7H1702.8zM2261.3 1490.7H2312.4V1514.7H2261.3zM2362.8 1490.7H2464.8V1514.7H2362.8zM2413.6 1514.3H2464.8V1538.4H2413.6zM1753.6 1538H1804.8V1562.1H1753.6zM2159.7 1538H2210.9V1562.1H2159.7zM2413.6 1538H2464.8V1562.1H2413.6zM2109 1561.7H2160.1V1585.7H2109zM2210.5 1561.7H2261.7V1585.7H2210.5zM2413.6 1585.3H2464.8V1609.4H2413.6zM1499.7 1609H1550.9V1633.1H1499.7zM1753.6 1609H1804.8V1633.1H1753.6zM2007.4 1609H2058.6V1633.1H2007.4zM2362.8 1609H2414V1633.1H2362.8zM1601.3 1632.7H1652.4V1656.7H1601.3zM1753.6 1632.7H1804.8V1656.7H1753.6zM1956.7 1632.7H2007.8V1656.7H1956.7zM2261.3 1632.7H2312.4V1656.7H2261.3zM2362.8 1632.7H2464.8V1656.7H2362.8zM1855.1 1656.3H1906.3V1680.4H1855.1zM2007.4 1656.3H2058.6V1680.4H2007.4zM2109 1656.3H2312.4V1680.4H2109zM1753.6 1680H1804.8V1704.1H1753.6zM2261.3 1680H2312.4V1704.1H2261.3zM1652 1703.7H1703.2V1727.8H1652zM1804.3 1703.7H1855.5V1727.8H1804.3zM1753.6 1727.4H1804.8V1751.4H1753.6zM2159.7 1727.4H2261.7V1751.4H2159.7zM2312.1 1727.4H2363.2V1751.4H2312.1zM1956.7 1751H2007.8V1775.1H1956.7zM2159.7 1751H2261.7V1775.1H2159.7zM1855.1 1774.7H1906.3V1798.8H1855.1zM2058.2 1774.7H2109.4V1798.8H2058.2zM2210.5 1774.7H2261.7V1798.8H2210.5zM1804.3 1798.4H1855.5V1822.4H1804.3zM2210.5 1798.4H2363.2V1822.4H2210.5zM2159.7 1822H2210.9V1846.1H2159.7zM1753.6 1845.7H1804.8V1869.8H1753.6zM1956.7 1845.7H2007.8V1869.8H1956.7zM2261.3 1845.7H2312.4V1869.8H2261.3zM1601.3 1869.4H1652.4V1893.4H1601.3zM1702.8 1869.4H1754V1893.4H1702.8zM2210.5 1869.4H2261.7V1893.4H2210.5zM1855.1 1893H1906.3V1917.1H1855.1zM2210.5 1893H2261.7V1917.1H2210.5zM2362.8 1893H2414V1917.1H2362.8zM2159.7 1916.7H2261.7V1940.8H2159.7zM1855.1 1940.4H1957.1V1964.4H1855.1zM2159.7 1940.4H2210.9V1964.4H2159.7zM2007.4 1964H2058.6V1988.1H2007.4zM2210.5 1964H2261.7V1988.1H2210.5zM1702.8 1987.7H1754V2011.8H1702.8zM2159.7 1987.7H2363.2V2011.8H2159.7zM1905.9 2011.4H2058.6V2035.4H1905.9zM2159.7 2011.4H2210.9V2035.4H2159.7zM1804.3 2035H1855.5V2059.1H1804.3zM2058.2 2035H2109.4V2059.1H2058.2zM1702.8 2058.7H1754V2082.8H1702.8zM2058.2 2058.7H2109.4V2082.8H2058.2zM2210.5 2058.7H2312.4V2082.8H2210.5zM2058.2 2082.4H2109.4V2106.4H2058.2zM2159.7 2082.4H2210.9V2106.4H2159.7zM2261.3 2082.4H2312.4V2106.4H2261.3zM2159.7 2106H2261.7V2130.1H2159.7zM2312.1 2106H2363.2V2130.1H2312.1zM1855.1 2129.7H1906.3V2153.8H1855.1zM2210.5 2129.7H2261.7V2153.8H2210.5zM2058.2 2153.4H2109.4V2177.4H2058.2zM1804.3 2177H1855.5V2201.1H1804.3zM2159.7 2177H2312.4V2201.1H2159.7zM1753.6 2200.7H1804.8V2224.8H1753.6zM1905.9 2200.7H1957.1V2224.8H1905.9zM2058.2 2200.7H2109.4V2224.8H2058.2zM1804.3 2224.4H1855.5V2248.4H1804.3zM1956.7 2224.4H2007.8V2248.4H1956.7zM2159.7 2224.4H2210.9V2248.4H2159.7zM1905.9 2248H2007.8V2272.1H1905.9zM1702.8 2271.7H1754V2295.8H1702.8zM2109 2271.7H2160.1V2295.8H2109zM2210.5 2271.7H2261.7V2295.8H2210.5zM1905.9 2319.1H2007.8V2343.1H1905.9zM1905.9 2366.4H1957.1V2390.5H1905.9zM1956.7 2413.7H2007.8V2437.8H1956.7zM1855.1 2555.7H1906.3V2579.8H1855.1z"/>
<path fill="#274471" d="M738.2 212.6H789.4V236.7H738.2zM1042.8 212.6H1094V236.7H1042.8zM839.7 236.3H890.9V260.3H839.7zM839.7 259.9H890.9V284H839.7zM992 259.9H1043.2V284H992zM2159.7 259.9H2210.9V284H2159.7zM687.4 283.6H738.6V307.7H687.4zM788.9 283.6H890.9V307.7H788.9zM941.3 283.6H992.4V307.7H941.3zM2210.5 283.6H2261.7V307.7H2210.5zM585.9 307.3H637V331.3H585.9zM687.4 307.3H738.6V331.3H687.4zM890.5 307.3H941.7V331.3H890.5zM1347.4 307.3H1398.6V331.3H1347.4zM1855.1 307.3H1906.3V331.3H1855.1zM2058.2 307.3H2109.4V331.3H2058.2zM687.4 330.9H789.4V355H687.4zM839.7 330.9H890.9V355H839.7zM941.3 330.9H992.4V355H941.3zM1144.3 330.9H1195.5V355H1144.3zM1296.6 330.9H1347.8V355H1296.6zM1398.2 330.9H1449.4V355H1398.2zM1499.7 330.9H1550.9V355H1499.7zM1804.3 330.9H1906.3V355H1804.3zM2413.6 330.9H2464.8V355H2413.6zM535.1 354.6H637V378.7H535.1zM839.7 354.6H890.9V378.7H839.7zM1195.1 354.6H1246.3V378.7H1195.1zM1804.3 354.6H1855.5V378.7H1804.3zM1956.7 354.6H2058.6V378.7H1956.7zM2362.8 354.6H2414V378.7H2362.8zM585.9 378.3H687.8V402.3H585.9zM738.2 378.3H789.4V402.3H738.2zM1042.8 378.3H1094V402.3H1042.8zM1245.9 378.3H1297V402.3H1245.9zM1804.3 378.3H1906.3V402.3H1804.3zM2109 378.3H2210.9V402.3H2109zM2261.3 378.3H2312.4V402.3H2261.3zM535.1 401.9H586.3V426H535.1zM1042.8 401.9H1195.5V426H1042.8zM1804.3 401.9H1906.3V426H1804.3zM636.6 425.6H738.6V449.7H636.6zM1753.6 425.6H1855.5V449.7H1753.6zM585.9 449.3H637V473.3H585.9zM941.3 449.3H992.4V473.3H941.3zM1601.3 449.3H1652.4V473.3H1601.3zM1855.1 449.3H1906.3V473.3H1855.1zM2007.4 449.3H2058.6V473.3H2007.4zM1042.8 472.9H1144.7V497H1042.8zM1195.1 472.9H1297V497H1195.1zM1398.2 472.9H1449.4V497H1398.2zM1499.7 472.9H1550.9V497H1499.7zM1601.3 472.9H1703.2V497H1601.3zM1855.1 472.9H1906.3V497H1855.1zM788.9 496.6H890.9V520.7H788.9zM1195.1 496.6H1246.3V520.7H1195.1zM1398.2 496.6H1500.1V520.7H1398.2zM1550.5 496.6H1601.7V520.7H1550.5zM2007.4 496.6H2058.6V520.7H2007.4zM2109 496.6H2210.9V520.7H2109zM2261.3 496.6H2312.4V520.7H2261.3zM2261.3 520.3H2312.4V544.4H2261.3zM2159.7 544H2210.9V568H2159.7zM1855.1 567.6H1906.3V591.7H1855.1zM1956.7 567.6H2007.8V591.7H1956.7zM2362.8 567.6H2414V591.7H2362.8zM1753.6 591.3H1804.8V615.4H1753.6zM1855.1 591.3H2058.6V615.4H1855.1zM2159.7 591.3H2210.9V615.4H2159.7zM2261.3 591.3H2312.4V615.4H2261.3zM2362.8 591.3H2414V615.4H2362.8zM1753.6 615H1804.8V639H1753.6zM1855.1 615H2109.4V639H1855.1zM2210.5 615H2261.7V639H2210.5zM2312.1 615H2363.2V639H2312.1zM1905.9 638.6H2160.1V662.7H1905.9zM2312.1 638.6H2363.2V662.7H2312.1zM1905.9 662.3H2160.1V686.4H1905.9zM2261.3 662.3H2312.4V686.4H2261.3zM687.4 686H738.6V710H687.4zM992 686H1094V710H992zM1652 686H1703.2V710H1652zM1753.6 686H1804.8V710H1753.6zM1855.1 686H2007.8V710H1855.1zM2109 686H2210.9V710H2109zM2261.3 686H2312.4V710H2261.3zM1550.5 709.6H1601.7V733.7H1550.5zM1804.3 709.6H1855.5V733.7H1804.3zM2413.6 709.6H2464.8V733.7H2413.6zM1905.9 733.3H1957.1V757.4H1905.9zM2058.2 733.3H2210.9V757.4H2058.2zM1804.3 757H1957.1V781H1804.3zM2058.2 757H2109.4V781H2058.2zM2261.3 757H2414V781H2261.3zM1855.1 780.6H2109.4V804.7H1855.1zM2159.7 780.6H2363.2V804.7H2159.7zM1804.3 804.3H1855.5V828.4H1804.3zM1804.3 828H1855.5V852H1804.3zM2109 828H2160.1V852H2109zM2210.5 828H2312.4V852H2210.5zM1347.4 851.6H1449.4V875.7H1347.4zM1702.8 851.6H1754V875.7H1702.8zM1905.9 851.6H1957.1V875.7H1905.9zM2109 851.6H2210.9V875.7H2109zM2261.3 851.6H2312.4V875.7H2261.3zM1398.2 875.3H1449.4V899.4H1398.2zM1753.6 875.3H1804.8V899.4H1753.6zM1956.7 875.3H2058.6V899.4H1956.7zM2362.8 875.3H2414V899.4H2362.8zM992 899H1043.2V923H992zM1449 899H1500.1V923H1449zM2109 899H2210.9V923H2109zM1245.9 922.6H1297V946.7H1245.9zM1398.2 922.6H1449.4V946.7H1398.2zM1550.5 922.6H1601.7V946.7H1550.5zM1804.3 922.6H1855.5V946.7H1804.3zM2159.7 922.6H2312.4V946.7H2159.7zM2362.8 922.6H2414V946.7H2362.8zM890.5 946.3H941.7V970.4H890.5zM2007.4 946.3H2058.6V970.4H2007.4zM1499.7 970H1550.9V994H1499.7zM2007.4 970H2210.9V994H2007.4zM2261.3 970H2312.4V994H2261.3zM2261.3 993.6H2414V1017.7H2261.3zM1042.8 1017.3H1094V1041.4H1042.8zM1905.9 1017.3H1957.1V1041.4H1905.9zM2058.2 1017.3H2109.4V1041.4H2058.2zM2261.3 1017.3H2312.4V1041.4H2261.3zM2362.8 1041H2414V1065H2362.8zM1753.6 1064.6H1804.8V1088.7H1753.6zM2159.7 1064.6H2261.7V1088.7H2159.7zM2413.6 1064.6H2464.8V1088.7H2413.6zM1702.8 1088.3H1754V1112.4H1702.8zM1956.7 1088.3H2007.8V1112.4H1956.7zM2362.8 1088.3H2414V1112.4H2362.8zM1042.8 1112H1094V1136.1H1042.8zM2109 1112H2160.1V1136.1H2109zM2210.5 1112H2261.7V1136.1H2210.5zM1905.9 1135.7H1957.1V1159.7H1905.9zM2058.2 1135.7H2109.4V1159.7H2058.2zM2058.2 1159.3H2160.1V1183.4H2058.2zM2261.3 1159.3H2312.4V1183.4H2261.3zM1855.1 1183H1906.3V1207.1H1855.1zM2159.7 1183H2261.7V1207.1H2159.7zM1499.7 1206.7H1550.9V1230.7H1499.7zM1753.6 1206.7H1804.8V1230.7H1753.6zM2159.7 1206.7H2210.9V1230.7H2159.7zM2261.3 1206.7H2312.4V1230.7H2261.3zM2362.8 1206.7H2414V1230.7H2362.8zM2261.3 1230.3H2363.2V1254.4H2261.3zM2413.6 1230.3H2464.8V1254.4H2413.6zM1550.5 1254H1601.7V1278.1H1550.5zM1855.1 1254H1957.1V1278.1H1855.1zM2007.4 1254H2058.6V1278.1H2007.4zM2261.3 1254H2312.4V1278.1H2261.3zM2362.8 1254H2414V1278.1H2362.8zM1702.8 1277.7H1804.8V1301.7H1702.8zM1905.9 1277.7H1957.1V1301.7H1905.9zM2159.7 1277.7H2312.4V1301.7H2159.7zM1905.9 1301.3H2058.6V1325.4H1905.9zM1804.3 1325H1855.5V1349.1H1804.3zM2007.4 1325H2058.6V1349.1H2007.4zM2109 1325H2160.1V1349.1H2109zM2210.5 1325H2261.7V1349.1H2210.5zM2058.2 1348.7H2109.4V1372.7H2058.2zM2362.8 1348.7H2414V1372.7H2362.8zM2210.5 1372.3H2261.7V1396.4H2210.5zM2312.1 1372.3H2414V1396.4H2312.1zM1855.1 1396H1906.3V1420.1H1855.1zM2159.7 1396H2210.9V1420.1H2159.7zM2261.3 1396H2312.4V1420.1H2261.3zM1550.5 1419.7H1601.7V1443.7H1550.5zM1753.6 1419.7H1906.3V1443.7H1753.6zM2159.7 1419.7H2210.9V1443.7H2159.7zM2312.1 1419.7H2363.2V1443.7H2312.1zM1753.6 1443.3H1855.5V1467.4H1753.6zM1905.9 1443.3H2007.8V1467.4H1905.9zM2159.7 1443.3H2312.4V1467.4H2159.7zM1804.3 1467H1906.3V1491.1H1804.3zM2058.2 1467H2109.4V1491.1H2058.2zM2159.7 1467H2210.9V1491.1H2159.7zM2261.3 1467H2414V1491.1H2261.3zM2312.1 1490.7H2363.2V1514.7H2312.1zM1601.3 1514.3H1652.4V1538.4H1601.3zM2159.7 1514.3H2261.7V1538.4H2159.7zM2312.1 1514.3H2414V1538.4H2312.1zM1956.7 1538H2058.6V1562.1H1956.7zM2109 1538H2160.1V1562.1H2109zM2312.1 1538H2414V1562.1H2312.1zM1093.6 1561.7H1144.7V1585.7H1093.6zM2159.7 1561.7H2210.9V1585.7H2159.7zM2261.3 1561.7H2464.8V1585.7H2261.3zM1753.6 1585.3H1804.8V1609.4H1753.6zM2109 1585.3H2414V1609.4H2109zM1804.3 1609H1855.5V1633.1H1804.3zM2159.7 1609H2363.2V1633.1H2159.7zM2007.4 1632.7H2058.6V1656.7H2007.4zM2109 1632.7H2160.1V1656.7H2109zM2210.5 1632.7H2261.7V1656.7H2210.5zM2312.1 1632.7H2363.2V1656.7H2312.1zM1804.3 1656.3H1855.5V1680.4H1804.3zM2362.8 1656.3H2414V1680.4H2362.8zM1804.3 1680H1906.3V1704.1H1804.3zM1956.7 1680H2007.8V1704.1H1956.7zM2109 1680H2160.1V1704.1H2109zM2210.5 1680H2261.7V1704.1H2210.5zM1855.1 1703.7H1906.3V1727.8H1855.1zM1956.7 1703.7H2007.8V1727.8H1956.7zM2159.7 1703.7H2261.7V1727.8H2159.7zM2413.6 1703.7H2464.8V1727.8H2413.6zM1804.3 1727.4H1855.5V1751.4H1804.3zM2058.2 1727.4H2160.1V1751.4H2058.2zM2362.8 1727.4H2464.8V1751.4H2362.8zM1550.5 1751H1601.7V1775.1H1550.5zM1753.6 1751H1855.5V1775.1H1753.6zM2312.1 1751H2363.2V1775.1H2312.1zM1753.6 1774.7H1855.5V1798.8H1753.6zM2007.4 1774.7H2058.6V1798.8H2007.4zM2261.3 1774.7H2312.4V1798.8H2261.3zM1905.9 1822H1957.1V1846.1H1905.9zM2210.5 1822H2261.7V1846.1H2210.5zM1956.7 1869.4H2007.8V1893.4H1956.7zM2109 1869.4H2160.1V1893.4H2109zM2261.3 1869.4H2312.4V1893.4H2261.3zM2007.4 1916.7H2160.1V1940.8H2007.4zM2007.4 1940.4H2109.4V1964.4H2007.4zM1956.7 1964H2007.8V1988.1H1956.7zM2159.7 1964H2210.9V1988.1H2159.7zM2362.8 1964H2414V1988.1H2362.8zM1956.7 1987.7H2007.8V2011.8H1956.7zM2109 1987.7H2160.1V2011.8H2109zM1652 2011.4H1703.2V2035.4H1652zM1804.3 2011.4H1906.3V2035.4H1804.3zM2058.2 2011.4H2109.4V2035.4H2058.2zM2109 2035H2210.9V2059.1H2109zM2261.3 2035H2312.4V2059.1H2261.3zM2362.8 2035H2414V2059.1H2362.8zM1956.7 2058.7H2007.8V2082.8H1956.7zM1956.7 2082.4H2007.8V2106.4H1956.7zM2210.5 2082.4H2261.7V2106.4H2210.5zM1855.1 2106H1906.3V2130.1H1855.1zM1804.3 2129.7H1855.5V2153.8H1804.3zM1753.6 2177H1804.8V2201.1H1753.6zM1905.9 2177H1957.1V2201.1H1905.9zM1855.1 2200.7H1906.3V2224.8H1855.1zM2312.1 2200.7H2363.2V2224.8H2312.1zM1855.1 2248H1906.3V2272.1H1855.1zM2007.4 2248H2058.6V2272.1H2007.4zM2261.3 2248H2312.4V2272.1H2261.3zM1855.1 2271.7H1906.3V2295.8H1855.1zM2362.8 2271.7H2414V2295.8H2362.8z"/>
<path fill="#225372" d="M839.7 212.6H890.9V236.7H839.7zM2159.7 212.6H2210.9V236.7H2159.7zM636.6 236.3H687.8V260.3H636.6zM788.9 236.3H840.1V260.3H788.9zM1042.8 236.3H1094V260.3H1042.8zM585.9 259.9H637V284H585.9zM890.5 259.9H941.7V284H890.5zM738.2 283.6H789.4V307.7H738.2zM738.2 307.3H789.4V331.3H738.2zM2312.1 307.3H2363.2V331.3H2312.1zM535.1 330.9H586.3V355H535.1zM1398.2 354.6H1449.4V378.7H1398.2zM890.5 378.3H992.4V402.3H890.5zM636.6 401.9H687.8V426H636.6zM788.9 401.9H840.1V426H788.9zM1398.2 401.9H1449.4V426H1398.2zM1956.7 401.9H2007.8V426H1956.7zM890.5 425.6H992.4V449.7H890.5zM1042.8 425.6H1094V449.7H1042.8zM1296.6 425.6H1347.8V449.7H1296.6zM992 449.3H1043.2V473.3H992zM1296.6 449.3H1347.8V473.3H1296.6zM1550.5 449.3H1601.7V473.3H1550.5zM941.3 472.9H992.4V497H941.3zM1144.3 472.9H1195.5V497H1144.3zM1093.6 496.6H1144.7V520.7H1093.6zM2413.6 496.6H2464.8V520.7H2413.6zM1804.3 520.3H1855.5V544.4H1804.3zM2210.5 520.3H2261.7V544.4H2210.5zM1753.6 544H1804.8V568H1753.6zM2058.2 591.3H2109.4V615.4H2058.2zM2312.1 591.3H2363.2V615.4H2312.1zM2159.7 615H2210.9V639H2159.7zM941.3 638.6H992.4V662.7H941.3zM1804.3 638.6H1855.5V662.7H1804.3zM2159.7 638.6H2210.9V662.7H2159.7zM941.3 662.3H992.4V686.4H941.3zM1245.9 662.3H1297V686.4H1245.9zM2210.5 662.3H2261.7V686.4H2210.5zM788.9 686H840.1V710H788.9zM1804.3 686H1855.5V710H1804.3zM2007.4 686H2109.4V710H2007.4zM2210.5 686H2261.7V710H2210.5zM1144.3 709.6H1195.5V733.7H1144.3zM1855.1 709.6H1957.1V733.7H1855.1zM2109 709.6H2210.9V733.7H2109zM2261.3 709.6H2312.4V733.7H2261.3zM1855.1 733.3H1906.3V757.4H1855.1zM2312.1 733.3H2363.2V757.4H2312.1zM1449 757H1500.1V781H1449zM1956.7 757H2058.6V781H1956.7zM2109 757H2160.1V781H2109zM2210.5 757H2261.7V781H2210.5zM1398.2 780.6H1449.4V804.7H1398.2zM1702.8 780.6H1754V804.7H1702.8zM1905.9 804.3H1957.1V828.4H1905.9zM2159.7 804.3H2210.9V828.4H2159.7zM2261.3 804.3H2312.4V828.4H2261.3zM2007.4 828H2058.6V852H2007.4zM2312.1 828H2363.2V852H2312.1zM1093.6 851.6H1144.7V875.7H1093.6zM1245.9 851.6H1297V875.7H1245.9zM1601.3 851.6H1652.4V875.7H1601.3zM1804.3 851.6H1855.5V875.7H1804.3zM2007.4 851.6H2058.6V875.7H2007.4zM636.6 875.3H687.8V899.4H636.6zM2058.2 875.3H2160.1V899.4H2058.2zM1347.4 899H1398.6V923H1347.4zM1753.6 899H1804.8V923H1753.6zM2007.4 899H2058.6V923H2007.4zM2210.5 899H2312.4V923H2210.5zM687.4 922.6H738.6V946.7H687.4zM1449 922.6H1500.1V946.7H1449zM2109 922.6H2160.1V946.7H2109zM2210.5 946.3H2261.7V970.4H2210.5zM1499.7 993.6H1550.9V1017.7H1499.7zM2007.4 993.6H2058.6V1017.7H2007.4zM2007.4 1017.3H2058.6V1041.4H2007.4zM2109 1017.3H2210.9V1041.4H2109zM2362.8 1017.3H2414V1041.4H2362.8zM2210.5 1041H2261.7V1065H2210.5zM1144.3 1088.3H1195.5V1112.4H1144.3zM2058.2 1088.3H2109.4V1112.4H2058.2zM2210.5 1088.3H2261.7V1112.4H2210.5zM1144.3 1112H1195.5V1136.1H1144.3zM2159.7 1112H2210.9V1136.1H2159.7zM1398.2 1135.7H1449.4V1159.7H1398.2zM2007.4 1135.7H2058.6V1159.7H2007.4zM2159.7 1135.7H2261.7V1159.7H2159.7zM2159.7 1159.3H2210.9V1183.4H2159.7zM1905.9 1183H1957.1V1207.1H1905.9zM2312.1 1183H2363.2V1207.1H2312.1zM1855.1 1206.7H1906.3V1230.7H1855.1zM2210.5 1206.7H2261.7V1230.7H2210.5zM1753.6 1230.3H1804.8V1254.4H1753.6zM1855.1 1230.3H1906.3V1254.4H1855.1zM2007.4 1230.3H2109.4V1254.4H2007.4zM2210.5 1230.3H2261.7V1254.4H2210.5zM2058.2 1254H2160.1V1278.1H2058.2zM2210.5 1254H2261.7V1278.1H2210.5zM1398.2 1277.7H1449.4V1301.7H1398.2zM2007.4 1277.7H2058.6V1301.7H2007.4zM2312.1 1277.7H2363.2V1301.7H2312.1zM2210.5 1301.3H2261.7V1325.4H2210.5zM1804.3 1348.7H1855.5V1372.7H1804.3zM2109 1348.7H2210.9V1372.7H2109zM2159.7 1372.3H2210.9V1396.4H2159.7zM2210.5 1396H2261.7V1420.1H2210.5zM1905.9 1419.7H2007.8V1443.7H1905.9zM1855.1 1443.3H1906.3V1467.4H1855.1zM2007.4 1443.3H2058.6V1467.4H2007.4zM2109 1443.3H2160.1V1467.4H2109zM2362.8 1443.3H2414V1467.4H2362.8zM1753.6 1467H1804.8V1491.1H1753.6zM1956.7 1467H2007.8V1491.1H1956.7zM2210.5 1467H2261.7V1491.1H2210.5zM1804.3 1490.7H1906.3V1514.7H1804.3zM2109 1490.7H2261.7V1514.7H2109zM1804.3 1514.3H1855.5V1538.4H1804.3zM2109 1514.3H2160.1V1538.4H2109zM2261.3 1514.3H2312.4V1538.4H2261.3zM1804.3 1538H1855.5V1562.1H1804.3zM2210.5 1538H2312.4V1562.1H2210.5zM1804.3 1561.7H1855.5V1585.7H1804.3zM1956.7 1561.7H2007.8V1585.7H1956.7zM2058.2 1561.7H2109.4V1585.7H2058.2zM1855.1 1585.3H1906.3V1609.4H1855.1zM1956.7 1585.3H2007.8V1609.4H1956.7zM2464.4 1585.3H2515.5V1609.4H2464.4zM1956.7 1609H2007.8V1633.1H1956.7zM2058.2 1609H2109.4V1633.1H2058.2zM1855.1 1632.7H1906.3V1656.7H1855.1zM2058.2 1632.7H2109.4V1656.7H2058.2zM2159.7 1632.7H2210.9V1656.7H2159.7zM1905.9 1656.3H1957.1V1680.4H1905.9zM2362.8 1703.7H2414V1727.8H2362.8zM2261.3 1727.4H2312.4V1751.4H2261.3zM2058.2 1751H2109.4V1775.1H2058.2zM1905.9 1774.7H1957.1V1798.8H1905.9zM2362.8 1774.7H2414V1798.8H2362.8zM1753.6 1798.4H1804.8V1822.4H1753.6zM1956.7 1798.4H2007.8V1822.4H1956.7zM1804.3 1822H1906.3V1846.1H1804.3zM2058.2 1822H2109.4V1846.1H2058.2zM2261.3 1822H2363.2V1846.1H2261.3zM1550.5 1869.4H1601.7V1893.4H1550.5zM1652 1869.4H1703.2V1893.4H1652zM2159.7 1893H2210.9V1917.1H2159.7zM1702.8 1916.7H1754V1940.8H1702.8zM1855.1 1916.7H1906.3V1940.8H1855.1zM1804.3 1940.4H1855.5V1964.4H1804.3zM2109 1940.4H2160.1V1964.4H2109zM2210.5 1940.4H2261.7V1964.4H2210.5zM1652 1964H1703.2V1988.1H1652zM2261.3 1964H2312.4V1988.1H2261.3zM1753.6 1987.7H1855.5V2011.8H1753.6zM2109 2011.4H2160.1V2035.4H2109zM1956.7 2177H2007.8V2201.1H1956.7zM1956.7 2200.7H2007.8V2224.8H1956.7zM2210.5 2248H2261.7V2272.1H2210.5zM1753.6 2508.4H1804.8V2532.5H1753.6z"/>
<path fill="#1f6371" d="M535.1 212.6H586.3V236.7H535.1zM636.6 330.9H687.8V355H636.6zM585.9 401.9H637V426H585.9zM890.5 401.9H941.7V426H890.5zM1245.9 425.6H1297V449.7H1245.9zM636.6 449.3H687.8V473.3H636.6zM890.5 449.3H941.7V473.3H890.5zM1245.9 449.3H1297V473.3H1245.9zM1398.2 449.3H1449.4V473.3H1398.2zM2312.1 544H2363.2V568H2312.1zM2109 591.3H2160.1V615.4H2109zM1804.3 662.3H1906.3V686.4H1804.3zM1652 709.6H1703.2V733.7H1652zM1956.7 709.6H2007.8V733.7H1956.7zM2058.2 709.6H2109.4V733.7H2058.2zM992 733.3H1043.2V757.4H992zM1652 733.3H1703.2V757.4H1652zM2007.4 733.3H2058.6V757.4H2007.4zM535.1 804.3H586.3V828.4H535.1zM2058.2 828H2109.4V852H2058.2zM2210.5 851.6H2261.7V875.7H2210.5zM1855.1 875.3H1957.1V899.4H1855.1zM2261.3 875.3H2312.4V899.4H2261.3zM2413.6 875.3H2464.8V899.4H2413.6zM788.9 899H840.1V923H788.9zM1042.8 899H1094V923H1042.8zM1550.5 899H1601.7V923H1550.5zM788.9 922.6H840.1V946.7H788.9zM1956.7 922.6H2007.8V946.7H1956.7zM1956.7 946.3H2007.8V970.4H1956.7zM1296.6 993.6H1347.8V1017.7H1296.6zM1956.7 993.6H2007.8V1017.7H1956.7zM2210.5 993.6H2261.7V1017.7H2210.5zM2210.5 1017.3H2261.7V1041.4H2210.5zM1804.3 1041H1855.5V1065H1804.3zM1905.9 1088.3H1957.1V1112.4H1905.9zM2312.1 1088.3H2363.2V1112.4H2312.1zM1905.9 1112H1957.1V1136.1H1905.9zM2210.5 1159.3H2261.7V1183.4H2210.5zM1347.4 1183H1398.6V1207.1H1347.4zM2007.4 1183H2058.6V1207.1H2007.4zM2109 1183H2160.1V1207.1H2109zM1956.7 1206.7H2007.8V1230.7H1956.7zM2464.4 1206.7H2515.5V1230.7H2464.4zM1093.6 1254H1144.7V1278.1H1093.6zM1702.8 1254H1754V1278.1H1702.8zM1905.9 1325H1957.1V1349.1H1905.9zM1905.9 1348.7H2007.8V1372.7H1905.9zM1905.9 1372.3H2007.8V1396.4H1905.9zM2058.2 1372.3H2160.1V1396.4H2058.2zM2261.3 1372.3H2312.4V1396.4H2261.3zM1804.3 1396H1855.5V1420.1H1804.3zM2109 1396H2160.1V1420.1H2109zM2109 1467H2160.1V1491.1H2109zM2007.4 1490.7H2109.4V1514.7H2007.4zM1702.8 1514.3H1754V1538.4H1702.8zM1905.9 1514.3H2058.6V1538.4H1905.9zM1855.1 1538H1906.3V1562.1H1855.1zM2058.2 1538H2109.4V1562.1H2058.2zM2007.4 1561.7H2058.6V1585.7H2007.4zM2007.4 1585.3H2109.4V1609.4H2007.4zM2109 1609H2160.1V1633.1H2109zM2413.6 1609H2464.8V1633.1H2413.6zM1601.3 1680H1652.4V1704.1H1601.3zM1905.9 1680H1957.1V1704.1H1905.9zM1905.9 1703.7H1957.1V1727.8H1905.9zM2109 1703.7H2160.1V1727.8H2109zM1652 1727.4H1703.2V1751.4H1652zM1905.9 1727.4H2007.8V1751.4H1905.9zM1855.1 1751H1906.3V1775.1H1855.1zM2007.4 1751H2058.6V1775.1H2007.4zM2261.3 1751H2312.4V1775.1H2261.3zM2109 1774.7H2210.9V1798.8H2109zM2413.6 1774.7H2464.8V1798.8H2413.6zM1905.9 1798.4H1957.1V1822.4H1905.9zM2109 1798.4H2210.9V1822.4H2109zM2109 1822H2160.1V1846.1H2109zM1855.1 1845.7H1906.3V1869.8H1855.1zM2109 1845.7H2160.1V1869.8H2109zM1753.6 1869.4H1804.8V1893.4H1753.6zM1753.6 1893H1804.8V1917.1H1753.6zM1905.9 1893H1957.1V1917.1H1905.9zM1652 2035H1703.2V2059.1H1652zM1956.7 2035H2058.6V2059.1H1956.7zM1652 2058.7H1703.2V2082.8H1652zM1956.7 2106H2007.8V2130.1H1956.7zM1855.1 2153.4H1906.3V2177.4H1855.1zM1956.7 2153.4H2007.8V2177.4H1956.7zM2109 2153.4H2160.1V2177.4H2109zM1956.7 2342.7H2007.8V2366.8H1956.7zM2261.3 2366.4H2312.4V2390.5H2261.3zM2007.4 2413.7H2058.6V2437.8H2007.4z"/>
<path fill="#1c7370" d="M687.4 354.6H738.6V378.7H687.4zM2413.6 378.3H2464.8V402.3H2413.6zM535.1 425.6H637V449.7H535.1zM992 425.6H1043.2V449.7H992zM839.7 472.9H890.9V497H839.7zM992 472.9H1043.2V497H992zM2413.6 591.3H2464.8V615.4H2413.6zM941.3 709.6H992.4V733.7H941.3zM1398.2 733.3H1449.4V757.4H1398.2zM1702.8 733.3H1754V757.4H1702.8zM2261.3 733.3H2312.4V757.4H2261.3zM1195.1 780.6H1246.3V804.7H1195.1zM788.9 804.3H840.1V828.4H788.9zM1855.1 804.3H1906.3V828.4H1855.1zM2210.5 804.3H2261.7V828.4H2210.5zM1449 828H1500.1V852H1449zM1905.9 828H1957.1V852H1905.9zM1702.8 875.3H1754V899.4H1702.8zM1093.6 899H1144.7V923H1093.6zM2058.2 899H2109.4V923H2058.2zM738.2 970H789.4V994H738.2zM1601.3 970H1652.4V994H1601.3zM1956.7 970H2007.8V994H1956.7zM2210.5 970H2261.7V994H2210.5zM1347.4 1017.3H1398.6V1041.4H1347.4zM1499.7 1017.3H1550.9V1041.4H1499.7zM2058.2 1064.6H2109.4V1088.7H2058.2zM1956.7 1135.7H2007.8V1159.7H1956.7zM2261.3 1135.7H2312.4V1159.7H2261.3zM1956.7 1183H2007.8V1207.1H1956.7zM2109 1206.7H2160.1V1230.7H2109zM2109 1230.3H2160.1V1254.4H2109zM1855.1 1301.3H1906.3V1325.4H1855.1zM2058.2 1301.3H2109.4V1325.4H2058.2zM1956.7 1325H2007.8V1349.1H1956.7zM2159.7 1325H2210.9V1349.1H2159.7zM1804.3 1372.3H1855.5V1396.4H1804.3zM1905.9 1396H2058.6V1420.1H1905.9zM2362.8 1396H2414V1420.1H2362.8zM1702.8 1443.3H1754V1467.4H1702.8zM1905.9 1490.7H1957.1V1514.7H1905.9zM1905.9 1538H1957.1V1562.1H1905.9zM1804.3 1585.3H1855.5V1609.4H1804.3zM1905.9 1585.3H1957.1V1609.4H1905.9zM1905.9 1609H1957.1V1633.1H1905.9zM1905.9 1632.7H1957.1V1656.7H1905.9zM1956.7 1656.3H2007.8V1680.4H1956.7zM2058.2 1656.3H2109.4V1680.4H2058.2zM2058.2 1703.7H2109.4V1727.8H2058.2zM1855.1 1727.4H1906.3V1751.4H1855.1zM1855.1 1798.4H1906.3V1822.4H1855.1zM1652 1845.7H1703.2V1869.8H1652zM1905.9 1845.7H1957.1V1869.8H1905.9zM2058.2 1845.7H2109.4V1869.8H2058.2zM2210.5 1845.7H2261.7V1869.8H2210.5zM2058.2 1869.4H2109.4V1893.4H2058.2zM1702.8 1893H1754V1917.1H1702.8zM1804.3 1893H1855.5V1917.1H1804.3zM1804.3 1916.7H1855.5V1940.8H1804.3zM1702.8 1940.4H1754V1964.4H1702.8zM1905.9 1964H1957.1V1988.1H1905.9zM1855.1 1987.7H1906.3V2011.8H1855.1zM1905.9 2035H1957.1V2059.1H1905.9zM2109 2058.7H2160.1V2082.8H2109zM2109 2224.4H2160.1V2248.4H2109z"/>
<path fill="#1f846b" d="M992 401.9H1043.2V426H992zM738.2 686H789.4V710H738.2zM1956.7 828H2007.8V852H1956.7zM788.9 851.6H840.1V875.7H788.9zM1956.7 851.6H2007.8V875.7H1956.7zM2058.2 851.6H2109.4V875.7H2058.2zM1093.6 875.3H1144.7V899.4H1093.6zM941.3 899H992.4V923H941.3zM1296.6 922.6H1347.8V946.7H1296.6zM1144.3 946.3H1195.5V970.4H1144.3zM839.7 970H890.9V994H839.7zM992 1112H1043.2V1136.1H992zM2058.2 1183H2109.4V1207.1H2058.2zM2159.7 1230.3H2210.9V1254.4H2159.7zM1956.7 1277.7H2007.8V1301.7H1956.7zM2058.2 1325H2109.4V1349.1H2058.2zM2007.4 1348.7H2058.6V1372.7H2007.4zM2007.4 1372.3H2058.6V1396.4H2007.4zM2058.2 1396H2109.4V1420.1H2058.2zM2007.4 1419.7H2109.4V1443.7H2007.4zM1905.9 1467H1957.1V1491.1H1905.9zM2007.4 1467H2058.6V1491.1H2007.4zM2413.6 1467H2464.8V1491.1H2413.6zM1601.3 1490.7H1652.4V1514.7H1601.3zM1956.7 1490.7H2007.8V1514.7H1956.7zM2058.2 1514.3H2109.4V1538.4H2058.2zM1905.9 1561.7H1957.1V1585.7H1905.9zM1804.3 1632.7H1855.5V1656.7H1804.3zM2007.4 1680H2058.6V1704.1H2007.4zM2007.4 1727.4H2058.6V1751.4H2007.4zM1905.9 1751H1957.1V1775.1H1905.9zM2109 1751H2160.1V1775.1H2109zM1956.7 1774.7H2007.8V1798.8H1956.7zM2058.2 1798.4H2109.4V1822.4H2058.2zM1956.7 1822H2007.8V1846.1H1956.7zM1804.3 1869.4H1906.3V1893.4H1804.3zM1956.7 1893H2007.8V1917.1H1956.7zM1905.9 1916.7H1957.1V1940.8H1905.9zM1956.7 1940.4H2007.8V1964.4H1956.7zM1905.9 1987.7H1957.1V2011.8H1905.9zM2007.4 1987.7H2058.6V2011.8H2007.4zM1855.1 2035H1906.3V2059.1H1855.1zM1905.9 2058.7H1957.1V2082.8H1905.9zM1753.6 2082.4H1804.8V2106.4H1753.6zM1905.9 2224.4H1957.1V2248.4H1905.9zM1753.6 2366.4H1804.8V2390.5H1753.6z"/>
<path fill="#239665" d="M585.9 330.9H637V355H585.9zM941.3 686H992.4V710H941.3zM1245.9 780.6H1297V804.7H1245.9zM1398.2 899H1449.4V923H1398.2zM1905.9 970H1957.1V994H1905.9zM1042.8 993.6H1094V1017.7H1042.8zM2109 1041H2210.9V1065H2109zM1093.6 1064.6H1144.7V1088.7H1093.6zM1905.9 1064.6H1957.1V1088.7H1905.9zM992 1135.7H1043.2V1159.7H992zM1499.7 1135.7H1550.9V1159.7H1499.7zM1905.9 1159.3H1957.1V1183.4H1905.9zM2159.7 1254H2210.9V1278.1H2159.7zM2058.2 1277.7H2109.4V1301.7H2058.2zM1652 1396H1703.2V1420.1H1652zM1855.1 1514.3H1906.3V1538.4H1855.1zM1855.1 1561.7H1906.3V1585.7H1855.1zM1855.1 1609H1906.3V1633.1H1855.1zM2159.7 1680H2210.9V1704.1H2159.7zM2261.3 1703.7H2312.4V1727.8H2261.3zM1753.6 1940.4H1804.8V1964.4H1753.6zM2058.2 1964H2109.4V1988.1H2058.2zM2210.5 2035H2261.7V2059.1H2210.5zM1956.7 2129.7H2007.8V2153.8H1956.7zM1956.7 2295.4H2007.8V2319.5H1956.7zM1804.3 2555.7H1855.5V2579.8H1804.3z"/>
<path fill="#36a556" d="M1245.9 875.3H1297V899.4H1245.9zM1195.1 922.6H1246.3V946.7H1195.1zM1195.1 970H1246.3V994H1195.1zM1245.9 1064.6H1297V1088.7H1245.9zM2109 1088.3H2160.1V1112.4H2109zM1855.1 1964H1906.3V1988.1H1855.1zM2007.4 2082.4H2058.6V2106.4H2007.4z"/>
<path fill="#4ab448" d="M839.7 851.6H890.9V875.7H839.7zM2007.4 922.6H2058.6V946.7H2007.4zM2159.7 993.6H2210.9V1017.7H2159.7zM2109 1301.3H2160.1V1325.4H2109zM1702.8 1538H1754V1562.1H1702.8zM2007.4 1703.7H2058.6V1727.8H2007.4zM2007.4 1822H2058.6V1846.1H2007.4z"/>
<path fill="#6dbe36" d="M2058.2 1041H2109.4V1065H2058.2z"/>
<path fill="#90c823" d="M2159.7 1088.3H2210.9V1112.4H2159.7zM2007.4 1798.4H2058.6V1822.4H2007.4zM2058.2 1893H2109.4V1917.1H2058.2z"/>
<path fill="#cdd50e" d="M1093.6 1017.3H1144.7V1041.4H1093.6zM1855.1 1372.3H1906.3V1396.4H1855.1z"/>
</g>
<defs><linearGradient id="cb" x1="0" y1="1" x2="0" y2="0"><stop offset="0.0" stop-color="#1a091e"/><stop offset="0.125" stop-color="#331860"/><stop offset="0.25" stop-color="#2b3770"/><stop offset="0.375" stop-color="#215772"/><stop offset="0.5" stop-color="#1c7670"/><stop offset="0.625" stop-color="#239665"/><stop offset="0.75" stop-color="#4ab448"/><stop offset="0.875" stop-color="#90c823"/><stop offset="1.0" stop-color="#f6de00"/></linearGradient></defs>
<rect x="2569.5" y="210.29999999999998" width="85.5" height="2369.7000000000003" fill="url(#cb)"/>
<path d="M1111.7 2578.4v-59M1111.7 211.6v59M2212.8 2578.4v-59M2212.8 211.6v59M673.6 2578.4v-30M673.6 211.6v30M780.3 2578.4v-30M780.3 211.6v30M867.5 2578.4v-30M867.5 211.6v30M941.2 2578.4v-30M941.2 211.6v30M1005 2578.4v-30M1005 211.6v30M1061.4 2578.4v-30M1061.4 211.6v30M1443.2 2578.4v-30M1443.2 211.6v30M1637.1 2578.4v-30M1637.1 211.6v30M1774.7 2578.4v-30M1774.7 211.6v30M1881.4 2578.4v-30M1881.4 211.6v30M1968.6 2578.4v-30M1968.6 211.6v30M2042.3 2578.4v-30M2042.3 211.6v30M2106.1 2578.4v-30M2106.1 211.6v30M2162.5 2578.4v-30M2162.5 211.6v30M2544.3 2578.4v-30M2544.3 211.6v30M536.0 2499h37M2567.6 2499h-37M536.0 2441.9h37M2567.6 2441.9h-37M536.0 2397.5h37M2567.6 2397.5h-37M536.0 2361.3h37M2567.6 2361.3h-37M536.0 2330.7h37M2567.6 2330.7h-37M536.0 2304.1h37M2567.6 2304.1h-37M536.0 2280.7h37M2567.6 2280.7h-37M536.0 2259.8h74M2567.6 2259.8h-74M536.0 2122.1h37M2567.6 2122.1h-37M536.0 2041.5h37M2567.6 2041.5h-37M536.0 1984.4h37M2567.6 1984.4h-37M536.0 1940h37M2567.6 1940h-37M536.0 1903.8h37M2567.6 1903.8h-37M536.0 1873.2h37M2567.6 1873.2h-37M536.0 1846.6h37M2567.6 1846.6h-37M536.0 1823.2h37M2567.6 1823.2h-37M536.0 1802.3h74M2567.6 1802.3h-74M536.0 1664.6h37M2567.6 1664.6h-37M536.0 1584h37M2567.6 1584h-37M536.0 1526.9h37M2567.6 1526.9h-37M536.0 1482.5h37M2567.6 1482.5h-37M536.0 1446.3h37M2567.6 1446.3h-37M536.0 1415.7h37M2567.6 1415.7h-37M536.0 1389.1h37M2567.6 1389.1h-37M536.0 1365.7h37M2567.6 1365.7h-37M536.0 1344.8h74M2567.6 1344.8h-74M536.0 1207.1h37M2567.6 1207.1h-37M536.0 1126.5h37M2567.6 1126.5h-37M536.0 1069.4h37M2567.6 1069.4h-37M536.0 1025h37M2567.6 1025h-37M536.0 988.8h37M2567.6 988.8h-37M536.0 958.2h37M2567.6 958.2h-37M536.0 931.6h37M2567.6 931.6h-37M536.0 908.2h37M2567.6 908.2h-37M536.0 887.3h74M2567.6 887.3h-74M536.0 749.6h37M2567.6 749.6h-37M536.0 669h37M2567.6 669h-37M536.0 611.9h37M2567.6 611.9h-37M536.0 567.5h37M2567.6 567.5h-37M536.0 531.3h37M2567.6 531.3h-37M536.0 500.7h37M2567.6 500.7h-37M536.0 474.1h37M2567.6 474.1h-37M536.0 450.7h37M2567.6 450.7h-37M536.0 429.8h74M2567.6 429.8h-74M536.0 292.1h37M2567.6 292.1h-37M2655.0 2578.3h-36.5M2655.0 2473.3h-36.5M2655.0 2384.1h-36.5M2655.0 2307h-36.5M2655.0 2238.9h-36.5M2655.0 2177.9h-73M2655.0 1777.2h-36.5M2655.0 1542.8h-36.5M2655.0 1376.5h-36.5M2655.0 1247.5h-36.5M2655.0 1142.1h-36.5M2655.0 1052.9h-36.5M2655.0 975.8h-36.5M2655.0 907.7h-36.5M2655.0 846.7h-73M2655.0 446h-36.5M2655.0 211.9h-36.5" stroke="#999999" stroke-width="4.3" fill="none"/>
<rect x="536.0" y="211.6" width="2031.6" height="2366.8" fill="none" stroke="#999999" stroke-width="4.6"/>
<path d="M2655.0 209.29999999999998V2580.7000000000003" stroke="#999999" stroke-width="4.4" fill="none"/>
<circle cx="1839.1" cy="1576.5" r="42.5" fill="none" stroke="#ff0000" stroke-width="8.5"/>
<path d="M1932.1 1524.3L1965.3 1574.5L1932.1 1624.7L1898.9 1574.5z" fill="none" stroke="#0000ff" stroke-width="8.5" stroke-linejoin="miter" stroke-miterlimit="10"/>
<path d="M1986.3 1326.3L2020.2 1377L1986.3 1427.7L1952.4 1377z" fill="none" stroke="#ffffff" stroke-width="8.5" stroke-linejoin="miter" stroke-miterlimit="10"/>
<rect x="1964.6" y="1414" width="85.1" height="85.1" fill="none" stroke="#ff99ff" stroke-width="8.6"/>
<path d="M2021.1 1447.2H2049.9V1475.5H2077.8V1504.4H2049.9V1532.6H2021.1V1504.4H1992.7V1475.5H2021.1z" fill="none" stroke="#cccccc" stroke-width="8.4" stroke-linejoin="miter"/>
<path d="M2053.4 1296.1L2040.5 1258.1L2000.4 1257.6L2032.6 1233.6L2020.7 1195.3L2053.4 1218.5L2086.1 1195.3L2074.2 1233.6L2106.4 1257.6L2066.3 1258.1zM2053.4 1268.9L2046.9 1249.3L2026.3 1249.2L2042.9 1237L2036.6 1217.3L2053.4 1229.4L2070.2 1217.3L2063.9 1237L2080.5 1249.2L2059.9 1249.3z" fill="#cc00ff" fill-rule="evenodd"/>
<path d="M2024.75 584L2067.5 669.6H1982z" fill="none" stroke="#ff9933" stroke-width="8" stroke-linejoin="miter" stroke-miterlimit="10"/>
<text transform="matrix(1.485 0 0 1.606 535.913 171.294)" font-size="100" font-weight="bold">CMS</text>
<text transform="matrix(1.097 0 0 1.125 894.998 169.592)" font-size="100" font-style="italic">Preliminary</text>
<path d="M1743.6 169.4L1732.431 169.4L1732.431 109.49L1713 109.49L1713 101.631C1726.77 100.532 1733.808 97.575 1735.95 84.9L1743.6 84.9z" fill="#000"/>
<text transform="matrix(1.175 0 0 1.174 1765.735 169.426)" font-size="100">38 fb</text>
<text transform="matrix(0.856 0 0 0.775 2015.506 116.507)" font-size="100">−</text>
<path d="M2095 110.9L2087.371 110.9L2087.371 70.345L2074.1 70.345L2074.1 65.026C2083.505 64.282 2088.312 62.28 2089.775 53.7L2095 53.7z" fill="#000"/>
<text transform="matrix(0.981 0 0 1.176 2132.817 169.558)" font-size="100">(</text>
<path d="M2209.6 169.4L2199.197 169.4L2199.197 109.49L2181.1 109.49L2181.1 101.631C2193.925 100.532 2200.48 97.575 2202.475 84.9L2209.6 84.9z" fill="#000"/>
<text transform="matrix(1.215 0 0 1.176 2233.084 169.558)" font-size="100">3 TeV)</text>
<text transform="matrix(0.849 0 0 0.867 2086.971 396.533)" font-size="100" fill="#fff">Combined</text>
<path d="M330.9 496.9L317.906 496.9L317.906 423.873L295.3 423.873L295.3 414.294C311.32 412.955 319.508 409.35 322 393.9L330.9 393.9z" fill="#000"/><text transform="matrix(1.391 0 0 1.507 360.674 497.893)" font-size="100">0</text>
<text transform="matrix(0.977 0 0 1.01 432.788 429.59)" font-size="100">3</text>
<path d="M330.9 956.9L317.906 956.9L317.906 883.873L295.3 883.873L295.3 874.294C311.32 872.955 319.508 869.35 322 853.9L330.9 853.9z" fill="#000"/><text transform="matrix(1.391 0 0 1.507 360.674 957.893)" font-size="100">0</text>
<text transform="matrix(1.009 0 0 0.987 431.756 892.9)" font-size="100">2</text>
<path d="M383.6 1395.2L370.606 1395.2L370.606 1322.173L348 1322.173L348 1312.594C364.02 1311.255 372.208 1307.65 374.7 1292.2L383.6 1292.2z" fill="#000"/><text transform="matrix(1.391 0 0 1.507 413.374 1396.193)" font-size="100">0</text>
<path d="M484.3 1859.8L470.613 1859.8L470.613 1786.489L446.8 1786.489L446.8 1776.873C463.675 1775.529 472.3 1771.91 474.925 1756.4L484.3 1756.4z" fill="#000"/>
<path d="M293 2326.6L280.006 2326.6L280.006 2253.573L257.4 2253.573L257.4 2243.994C273.42 2242.655 281.608 2239.05 284.1 2223.6L293 2223.6z" fill="#000"/><text transform="matrix(1.391 0 0 1.507 322.774 2327.593)" font-size="100">0</text>
<text transform="matrix(0.99 0 0 0.789 393.85 2263.425)" font-size="100">−</text>
<path d="M484.3 2261.9L475.285 2261.9L475.285 2213.617L459.6 2213.617L459.6 2207.284C470.715 2206.399 476.396 2204.015 478.125 2193.8L484.3 2193.8z" fill="#000"/>
<path d="M1054.4 2790.7L1041.406 2790.7L1041.406 2717.673L1018.8 2717.673L1018.8 2708.094C1034.82 2706.755 1043.008 2703.15 1045.5 2687.7L1054.4 2687.7z" fill="#000"/><text transform="matrix(1.391 0 0 1.507 1084.174 2791.693)" font-size="100">0</text>
<text transform="matrix(1.002 0 0 0.996 1155.989 2727)" font-size="100">2</text>
<path d="M2158.7 2790.3L2145.706 2790.3L2145.706 2717.273L2123.1 2717.273L2123.1 2707.694C2139.12 2706.355 2147.308 2702.75 2149.8 2687.3L2158.7 2687.3z" fill="#000"/><text transform="matrix(1.391 0 0 1.507 2188.474 2791.293)" font-size="100">0</text>
<text transform="matrix(0.96 0 0 1 2261.252 2723.1)" font-size="100">3</text>
<path d="M2766.6 897.8L2753.606 897.8L2753.606 824.773L2731 824.773L2731 815.194C2747.02 813.855 2755.208 810.25 2757.7 794.8L2766.6 794.8z" fill="#000"/><text transform="matrix(1.391 0 0 1.507 2796.374 898.793)" font-size="100">0</text>
<path d="M2767.4 2235L2754.26 2235L2754.26 2161.973L2731.4 2161.973L2731.4 2152.394C2747.6 2151.055 2755.88 2147.45 2758.4 2132L2767.4 2132z" fill="#000"/>
<g transform="translate(3034.5,2253) rotate(-90)"><text transform="matrix(1.694 0 0 1.71 -5.961 0)" font-size="100">99th percentile Bayes factor</text></g>
<text transform="matrix(1.675 0 0 1.695 1332.447 2885.3)" font-size="100">m</text>
<path d="M1463.168 2886.703C1467.704 2881.345 1471.673 2879.089 1476.209 2879.089C1483.58 2879.089 1493.786 2885.152 1501.157 2885.152C1507.394 2885.152 1511.93 2882.05 1515.502 2876.833" fill="none" stroke="#000" stroke-width="5.67"/>
<path d="M1505.27 2903.249L1518.917 2903.249L1478.147 2980.479L1465.3 2980.479z" fill="#000"/><path d="M1466.613 2921.568C1468.326 2909.382 1472.038 2904.621 1478.147 2905.024C1486.312 2905.428 1490.367 2923.666 1494.478 2944.083C1498.532 2964.5 1502.643 2979.672 1509.781 2980.075C1515.89 2980.075 1519.145 2972.651 1520.287 2962.483" fill="none" stroke="#000" stroke-width="4.282"/>
<text transform="matrix(0.759 0 0 0.778 1522.138 2891.922)" font-size="100">0</text>
<path d="M1549.2 3017.1L1542.046 3017.1L1542.046 2979.098L1529.6 2979.098L1529.6 2974.113C1538.42 2973.416 1542.928 2971.54 1544.3 2963.5L1549.2 2963.5z" fill="#000"/>
<text transform="matrix(1.696 0 0 1.708 1610.661 2885.264)" font-size="100">[GeV]</text>
<g transform="translate(191.1,1353) rotate(-90)"><path d="M1.1 0L55.397 -116.1L102.4 0zM12.851 -8.475L81.634 -8.475L49.015 -86.262z" fill="#000" fill-rule="evenodd"/><text transform="matrix(1.669 0 0 1.697 106.784 0)" font-size="100">m</text><text transform="matrix(1.366 0 0 1.707 251.231 0.463)" font-size="100">(</text><path d="M358.743 -85.402L379.345 -85.402L317.798 32.213L298.403 32.213z" fill="#000"/><path d="M300.386 -57.504C302.972 -76.062 308.575 -83.313 317.798 -82.698C330.125 -82.084 336.245 -54.309 342.452 -23.215C348.572 7.879 354.778 30.984 365.553 31.599C374.777 31.599 379.69 20.292 381.414 4.806" fill="none" stroke="#000" stroke-width="6.465"/><path d="M305.828 -107.838C312.684 -115.97 318.683 -119.394 325.539 -119.394C336.68 -119.394 352.106 -110.192 363.247 -110.192C372.674 -110.192 379.53 -114.9 384.929 -122.818" fill="none" stroke="#000" stroke-width="8.57"/><text transform="matrix(1.082 0 0 1.171 386.582 -93.571)" font-size="100">0</text><text transform="matrix(1.164 0 0 1.153 383.878 84.1)" font-size="100">2</text><text transform="matrix(1.867 0 0 1.809 441.794 1.551)" font-size="100">,</text><path d="M544.102 -85.402L564.656 -85.402L503.252 32.213L483.902 32.213z" fill="#000"/><path d="M485.88 -57.504C488.46 -76.062 494.05 -83.313 503.252 -82.698C515.55 -82.084 521.656 -54.309 527.848 -23.215C533.954 7.879 540.146 30.984 550.896 31.599C560.098 31.599 565 20.292 566.72 4.806" fill="none" stroke="#000" stroke-width="6.45"/><path d="M490.54 -107.838C497.42 -115.97 503.44 -119.394 510.32 -119.394C521.5 -119.394 536.98 -110.192 548.16 -110.192C557.62 -110.192 564.5 -114.9 569.918 -122.818" fill="none" stroke="#000" stroke-width="8.6"/><text transform="matrix(1.073 0 0 1.171 571.714 -93.571)" font-size="100">0</text><path d="M609.6 84.1L599.708 84.1L599.708 27.026L582.5 27.026L582.5 19.539C594.695 18.492 600.928 15.675 602.825 3.6L609.6 3.6z" fill="#000"/><text transform="matrix(1.385 0 0 1.708 634.769 0.541)" font-size="100">)</text><text transform="matrix(1.696 0 0 1.705 731.161 0.031)" font-size="100">[GeV]</text></g>
</svg></body></html>
